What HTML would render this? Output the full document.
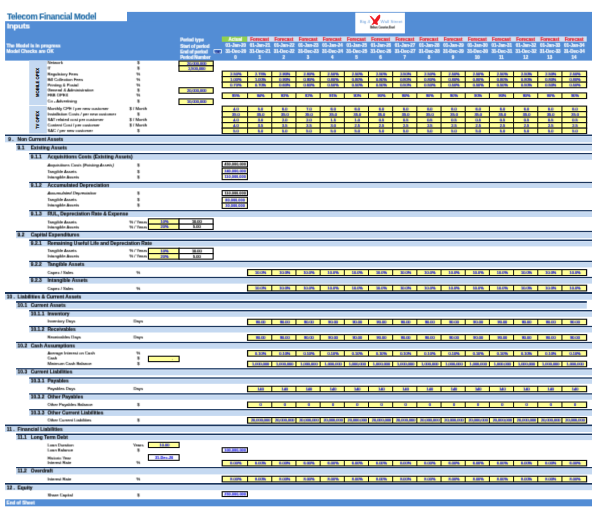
<!DOCTYPE html>
<html><head><meta charset="utf-8"><title>Telecom Financial Model - Inputs</title>
<style>
html,body{margin:0;padding:0;background:#fff;}
#s{position:relative;width:600px;height:516px;overflow:hidden;background:#fff;font-family:"Liberation Sans",sans-serif;}
#s svg,#s .L{position:absolute;left:0;top:0;width:600px;height:516px;display:block;}
#s span{position:absolute;display:block;white-space:nowrap;line-height:6px;}
#t0{filter:url(#f0);}
#t1{filter:url(#f1);}
</style></head><body><div id="s">
<svg width="600" height="516" viewBox="0 0 600 516">
<defs>
<filter id="f0" x="0" y="0" width="100%" height="100%" filterUnits="userSpaceOnUse" color-interpolation-filters="sRGB"><feConvolveMatrix order="3 3" kernelMatrix="0.0125 0.1000 0.0125 0.0750 0.6000 0.0750 0.0125 0.1000 0.0125" preserveAlpha="false"/></filter>
<filter id="f1" x="0" y="0" width="100%" height="100%" filterUnits="userSpaceOnUse" color-interpolation-filters="sRGB"><feConvolveMatrix order="3 2" targetX="1" targetY="1" kernelMatrix="0.0500 0.4000 0.0500 0.0500 0.4000 0.0500" preserveAlpha="false"/></filter>
</defs>
<rect x="127.00" y="11.90" width="465.00" height="12.00" fill="#538DD5"/>
<rect x="5.10" y="21.20" width="586.90" height="39.40" fill="#538DD5"/>
<rect x="213.60" y="49.30" width="8.20" height="4.00" fill="#fff"/>
<rect x="214.25" y="49.95" width="6.90" height="2.70" fill="#4B7FD0"/>
<rect x="221.80" y="36.50" width="25.50" height="5.30" fill="#92D050"/>
<rect x="247.30" y="36.40" width="339.40" height="5.30" fill="#D3DFF2"/>
<rect x="355.30" y="12.70" width="49.60" height="20.70" fill="#fff"/>
<path transform="translate(353,10) scale(0.0917)" fill="#EE1C24" d="M180,62 L200,68 L222,90 L238,106 L262,72 L288,50 L298,58 L296,84 L282,110 L264,130 L272,150 L268,163 L250,158 L236,150 L216,161 L200,160 L212,146 L222,132 L214,110 L196,86 Z"/>
<rect x="29.20" y="60.60" width="17.60" height="44.40" fill="#C5D9F1"/>
<rect x="29.20" y="105.80" width="17.60" height="27.60" fill="#C5D9F1"/>
<rect x="178.40" y="60.48" width="35.40" height="6.00" fill="#111"/>
<rect x="179.55" y="61.58" width="33.10" height="3.80" fill="#FFFF99"/>
<rect x="178.40" y="65.28" width="35.40" height="6.60" fill="#111"/>
<rect x="179.55" y="66.38" width="33.10" height="4.40" fill="#FFFF99"/>
<rect x="178.40" y="87.18" width="35.40" height="6.60" fill="#111"/>
<rect x="179.55" y="88.28" width="33.10" height="4.40" fill="#FFFF99"/>
<rect x="178.40" y="98.38" width="35.40" height="6.70" fill="#111"/>
<rect x="179.55" y="99.48" width="33.10" height="4.50" fill="#FFFF99"/>
<rect x="221.60" y="70.58" width="365.60" height="6.70" fill="#111"/>
<rect x="222.85" y="71.68" width="24.25" height="4.50" fill="#FFFF99"/>
<rect x="248.10" y="71.68" width="23.18" height="4.50" fill="#FFFF99"/>
<rect x="272.28" y="71.68" width="23.18" height="4.50" fill="#FFFF99"/>
<rect x="296.46" y="71.68" width="23.18" height="4.50" fill="#FFFF99"/>
<rect x="320.64" y="71.68" width="23.18" height="4.50" fill="#FFFF99"/>
<rect x="344.82" y="71.68" width="23.18" height="4.50" fill="#FFFF99"/>
<rect x="369.00" y="71.68" width="23.18" height="4.50" fill="#FFFF99"/>
<rect x="393.18" y="71.68" width="23.18" height="4.50" fill="#FFFF99"/>
<rect x="417.36" y="71.68" width="23.18" height="4.50" fill="#FFFF99"/>
<rect x="441.54" y="71.68" width="23.18" height="4.50" fill="#FFFF99"/>
<rect x="465.72" y="71.68" width="23.18" height="4.50" fill="#FFFF99"/>
<rect x="489.90" y="71.68" width="23.18" height="4.50" fill="#FFFF99"/>
<rect x="514.08" y="71.68" width="23.18" height="4.50" fill="#FFFF99"/>
<rect x="538.26" y="71.68" width="23.18" height="4.50" fill="#FFFF99"/>
<rect x="562.44" y="71.68" width="23.51" height="4.50" fill="#FFFF99"/>
<rect x="221.60" y="76.08" width="365.60" height="6.70" fill="#111"/>
<rect x="222.85" y="77.18" width="24.25" height="4.50" fill="#FFFF99"/>
<rect x="248.10" y="77.18" width="23.18" height="4.50" fill="#FFFF99"/>
<rect x="272.28" y="77.18" width="23.18" height="4.50" fill="#FFFF99"/>
<rect x="296.46" y="77.18" width="23.18" height="4.50" fill="#FFFF99"/>
<rect x="320.64" y="77.18" width="23.18" height="4.50" fill="#FFFF99"/>
<rect x="344.82" y="77.18" width="23.18" height="4.50" fill="#FFFF99"/>
<rect x="369.00" y="77.18" width="23.18" height="4.50" fill="#FFFF99"/>
<rect x="393.18" y="77.18" width="23.18" height="4.50" fill="#FFFF99"/>
<rect x="417.36" y="77.18" width="23.18" height="4.50" fill="#FFFF99"/>
<rect x="441.54" y="77.18" width="23.18" height="4.50" fill="#FFFF99"/>
<rect x="465.72" y="77.18" width="23.18" height="4.50" fill="#FFFF99"/>
<rect x="489.90" y="77.18" width="23.18" height="4.50" fill="#FFFF99"/>
<rect x="514.08" y="77.18" width="23.18" height="4.50" fill="#FFFF99"/>
<rect x="538.26" y="77.18" width="23.18" height="4.50" fill="#FFFF99"/>
<rect x="562.44" y="77.18" width="23.51" height="4.50" fill="#FFFF99"/>
<rect x="221.60" y="81.58" width="365.60" height="6.70" fill="#111"/>
<rect x="222.85" y="82.68" width="24.25" height="4.50" fill="#FFFF99"/>
<rect x="248.10" y="82.68" width="23.18" height="4.50" fill="#FFFF99"/>
<rect x="272.28" y="82.68" width="23.18" height="4.50" fill="#FFFF99"/>
<rect x="296.46" y="82.68" width="23.18" height="4.50" fill="#FFFF99"/>
<rect x="320.64" y="82.68" width="23.18" height="4.50" fill="#FFFF99"/>
<rect x="344.82" y="82.68" width="23.18" height="4.50" fill="#FFFF99"/>
<rect x="369.00" y="82.68" width="23.18" height="4.50" fill="#FFFF99"/>
<rect x="393.18" y="82.68" width="23.18" height="4.50" fill="#FFFF99"/>
<rect x="417.36" y="82.68" width="23.18" height="4.50" fill="#FFFF99"/>
<rect x="441.54" y="82.68" width="23.18" height="4.50" fill="#FFFF99"/>
<rect x="465.72" y="82.68" width="23.18" height="4.50" fill="#FFFF99"/>
<rect x="489.90" y="82.68" width="23.18" height="4.50" fill="#FFFF99"/>
<rect x="514.08" y="82.68" width="23.18" height="4.50" fill="#FFFF99"/>
<rect x="538.26" y="82.68" width="23.18" height="4.50" fill="#FFFF99"/>
<rect x="562.44" y="82.68" width="23.51" height="4.50" fill="#FFFF99"/>
<rect x="221.60" y="92.38" width="365.60" height="6.70" fill="#111"/>
<rect x="222.85" y="93.48" width="24.25" height="4.50" fill="#FFFF99"/>
<rect x="248.10" y="93.48" width="23.18" height="4.50" fill="#FFFF99"/>
<rect x="272.28" y="93.48" width="23.18" height="4.50" fill="#FFFF99"/>
<rect x="296.46" y="93.48" width="23.18" height="4.50" fill="#FFFF99"/>
<rect x="320.64" y="93.48" width="23.18" height="4.50" fill="#FFFF99"/>
<rect x="344.82" y="93.48" width="23.18" height="4.50" fill="#FFFF99"/>
<rect x="369.00" y="93.48" width="23.18" height="4.50" fill="#FFFF99"/>
<rect x="393.18" y="93.48" width="23.18" height="4.50" fill="#FFFF99"/>
<rect x="417.36" y="93.48" width="23.18" height="4.50" fill="#FFFF99"/>
<rect x="441.54" y="93.48" width="23.18" height="4.50" fill="#FFFF99"/>
<rect x="465.72" y="93.48" width="23.18" height="4.50" fill="#FFFF99"/>
<rect x="489.90" y="93.48" width="23.18" height="4.50" fill="#FFFF99"/>
<rect x="514.08" y="93.48" width="23.18" height="4.50" fill="#FFFF99"/>
<rect x="538.26" y="93.48" width="23.18" height="4.50" fill="#FFFF99"/>
<rect x="562.44" y="93.48" width="23.51" height="4.50" fill="#FFFF99"/>
<rect x="221.60" y="105.58" width="365.60" height="6.70" fill="#111"/>
<rect x="222.85" y="106.68" width="24.25" height="4.50" fill="#FFFF99"/>
<rect x="248.10" y="106.68" width="23.18" height="4.50" fill="#FFFF99"/>
<rect x="272.28" y="106.68" width="23.18" height="4.50" fill="#FFFF99"/>
<rect x="296.46" y="106.68" width="23.18" height="4.50" fill="#FFFF99"/>
<rect x="320.64" y="106.68" width="23.18" height="4.50" fill="#FFFF99"/>
<rect x="344.82" y="106.68" width="23.18" height="4.50" fill="#FFFF99"/>
<rect x="369.00" y="106.68" width="23.18" height="4.50" fill="#FFFF99"/>
<rect x="393.18" y="106.68" width="23.18" height="4.50" fill="#FFFF99"/>
<rect x="417.36" y="106.68" width="23.18" height="4.50" fill="#FFFF99"/>
<rect x="441.54" y="106.68" width="23.18" height="4.50" fill="#FFFF99"/>
<rect x="465.72" y="106.68" width="23.18" height="4.50" fill="#FFFF99"/>
<rect x="489.90" y="106.68" width="23.18" height="4.50" fill="#FFFF99"/>
<rect x="514.08" y="106.68" width="23.18" height="4.50" fill="#FFFF99"/>
<rect x="538.26" y="106.68" width="23.18" height="4.50" fill="#FFFF99"/>
<rect x="562.44" y="106.68" width="23.51" height="4.50" fill="#FFFF99"/>
<rect x="221.60" y="111.08" width="365.60" height="6.70" fill="#111"/>
<rect x="222.85" y="112.18" width="24.25" height="4.50" fill="#FFFF99"/>
<rect x="248.10" y="112.18" width="23.18" height="4.50" fill="#FFFF99"/>
<rect x="272.28" y="112.18" width="23.18" height="4.50" fill="#FFFF99"/>
<rect x="296.46" y="112.18" width="23.18" height="4.50" fill="#FFFF99"/>
<rect x="320.64" y="112.18" width="23.18" height="4.50" fill="#FFFF99"/>
<rect x="344.82" y="112.18" width="23.18" height="4.50" fill="#FFFF99"/>
<rect x="369.00" y="112.18" width="23.18" height="4.50" fill="#FFFF99"/>
<rect x="393.18" y="112.18" width="23.18" height="4.50" fill="#FFFF99"/>
<rect x="417.36" y="112.18" width="23.18" height="4.50" fill="#FFFF99"/>
<rect x="441.54" y="112.18" width="23.18" height="4.50" fill="#FFFF99"/>
<rect x="465.72" y="112.18" width="23.18" height="4.50" fill="#FFFF99"/>
<rect x="489.90" y="112.18" width="23.18" height="4.50" fill="#FFFF99"/>
<rect x="514.08" y="112.18" width="23.18" height="4.50" fill="#FFFF99"/>
<rect x="538.26" y="112.18" width="23.18" height="4.50" fill="#FFFF99"/>
<rect x="562.44" y="112.18" width="23.51" height="4.50" fill="#FFFF99"/>
<rect x="221.60" y="116.58" width="365.60" height="6.70" fill="#111"/>
<rect x="222.85" y="117.68" width="24.25" height="4.50" fill="#FFFF99"/>
<rect x="248.10" y="117.68" width="23.18" height="4.50" fill="#FFFF99"/>
<rect x="272.28" y="117.68" width="23.18" height="4.50" fill="#FFFF99"/>
<rect x="296.46" y="117.68" width="23.18" height="4.50" fill="#FFFF99"/>
<rect x="320.64" y="117.68" width="23.18" height="4.50" fill="#FFFF99"/>
<rect x="344.82" y="117.68" width="23.18" height="4.50" fill="#FFFF99"/>
<rect x="369.00" y="117.68" width="23.18" height="4.50" fill="#FFFF99"/>
<rect x="393.18" y="117.68" width="23.18" height="4.50" fill="#FFFF99"/>
<rect x="417.36" y="117.68" width="23.18" height="4.50" fill="#FFFF99"/>
<rect x="441.54" y="117.68" width="23.18" height="4.50" fill="#FFFF99"/>
<rect x="465.72" y="117.68" width="23.18" height="4.50" fill="#FFFF99"/>
<rect x="489.90" y="117.68" width="23.18" height="4.50" fill="#FFFF99"/>
<rect x="514.08" y="117.68" width="23.18" height="4.50" fill="#FFFF99"/>
<rect x="538.26" y="117.68" width="23.18" height="4.50" fill="#FFFF99"/>
<rect x="562.44" y="117.68" width="23.51" height="4.50" fill="#FFFF99"/>
<rect x="221.60" y="122.08" width="365.60" height="6.70" fill="#111"/>
<rect x="222.85" y="123.18" width="24.25" height="4.50" fill="#FFFF99"/>
<rect x="248.10" y="123.18" width="23.18" height="4.50" fill="#FFFF99"/>
<rect x="272.28" y="123.18" width="23.18" height="4.50" fill="#FFFF99"/>
<rect x="296.46" y="123.18" width="23.18" height="4.50" fill="#FFFF99"/>
<rect x="320.64" y="123.18" width="23.18" height="4.50" fill="#FFFF99"/>
<rect x="344.82" y="123.18" width="23.18" height="4.50" fill="#FFFF99"/>
<rect x="369.00" y="123.18" width="23.18" height="4.50" fill="#FFFF99"/>
<rect x="393.18" y="123.18" width="23.18" height="4.50" fill="#FFFF99"/>
<rect x="417.36" y="123.18" width="23.18" height="4.50" fill="#FFFF99"/>
<rect x="441.54" y="123.18" width="23.18" height="4.50" fill="#FFFF99"/>
<rect x="465.72" y="123.18" width="23.18" height="4.50" fill="#FFFF99"/>
<rect x="489.90" y="123.18" width="23.18" height="4.50" fill="#FFFF99"/>
<rect x="514.08" y="123.18" width="23.18" height="4.50" fill="#FFFF99"/>
<rect x="538.26" y="123.18" width="23.18" height="4.50" fill="#FFFF99"/>
<rect x="562.44" y="123.18" width="23.51" height="4.50" fill="#FFFF99"/>
<rect x="221.60" y="127.58" width="365.60" height="6.60" fill="#111"/>
<rect x="222.85" y="128.68" width="24.25" height="4.40" fill="#FFFF99"/>
<rect x="248.10" y="128.68" width="23.18" height="4.40" fill="#FFFF99"/>
<rect x="272.28" y="128.68" width="23.18" height="4.40" fill="#FFFF99"/>
<rect x="296.46" y="128.68" width="23.18" height="4.40" fill="#FFFF99"/>
<rect x="320.64" y="128.68" width="23.18" height="4.40" fill="#FFFF99"/>
<rect x="344.82" y="128.68" width="23.18" height="4.40" fill="#FFFF99"/>
<rect x="369.00" y="128.68" width="23.18" height="4.40" fill="#FFFF99"/>
<rect x="393.18" y="128.68" width="23.18" height="4.40" fill="#FFFF99"/>
<rect x="417.36" y="128.68" width="23.18" height="4.40" fill="#FFFF99"/>
<rect x="441.54" y="128.68" width="23.18" height="4.40" fill="#FFFF99"/>
<rect x="465.72" y="128.68" width="23.18" height="4.40" fill="#FFFF99"/>
<rect x="489.90" y="128.68" width="23.18" height="4.40" fill="#FFFF99"/>
<rect x="514.08" y="128.68" width="23.18" height="4.40" fill="#FFFF99"/>
<rect x="538.26" y="128.68" width="23.18" height="4.40" fill="#FFFF99"/>
<rect x="562.44" y="128.68" width="23.51" height="4.40" fill="#FFFF99"/>
<rect x="5.00" y="134.60" width="587.00" height="7.70" fill="#C5D9F1"/>
<rect x="5.00" y="134.60" width="587.00" height="1.40" fill="#1B365D"/>
<rect x="5.00" y="136.00" width="587.00" height="0.80" fill="#D6E3F4"/>
<rect x="16.10" y="143.80" width="575.90" height="7.00" fill="#C5D9F1"/>
<rect x="16.10" y="143.80" width="575.90" height="1.40" fill="#1B365D"/>
<rect x="16.10" y="145.20" width="575.90" height="0.80" fill="#D6E3F4"/>
<rect x="29.20" y="153.00" width="562.80" height="6.80" fill="#C5D9F1"/>
<rect x="29.20" y="153.00" width="562.80" height="1.40" fill="#1B365D"/>
<rect x="29.20" y="154.40" width="562.80" height="0.80" fill="#D6E3F4"/>
<rect x="221.60" y="160.98" width="26.40" height="6.50" fill="#111"/>
<rect x="222.75" y="162.08" width="24.10" height="4.30" fill="#fff"/>
<rect x="221.60" y="167.58" width="26.40" height="6.80" fill="#111"/>
<rect x="222.75" y="168.68" width="24.10" height="4.60" fill="#FFFFD2"/>
<rect x="221.60" y="173.18" width="26.40" height="7.00" fill="#111"/>
<rect x="222.75" y="174.28" width="24.10" height="4.80" fill="#FFFFD2"/>
<rect x="29.20" y="181.90" width="562.80" height="6.10" fill="#C5D9F1"/>
<rect x="29.20" y="181.90" width="562.80" height="1.40" fill="#1B365D"/>
<rect x="29.20" y="183.30" width="562.80" height="0.80" fill="#D6E3F4"/>
<rect x="221.60" y="190.08" width="26.40" height="6.00" fill="#111"/>
<rect x="222.75" y="191.18" width="24.10" height="3.80" fill="#fff"/>
<rect x="221.60" y="196.68" width="26.40" height="7.00" fill="#111"/>
<rect x="222.75" y="197.78" width="24.10" height="4.80" fill="#FFFFD2"/>
<rect x="221.60" y="202.48" width="26.40" height="6.50" fill="#111"/>
<rect x="222.75" y="203.58" width="24.10" height="4.30" fill="#FFFFD2"/>
<rect x="29.20" y="210.10" width="562.80" height="6.90" fill="#C5D9F1"/>
<rect x="29.20" y="210.10" width="562.80" height="1.40" fill="#1B365D"/>
<rect x="29.20" y="211.50" width="562.80" height="0.80" fill="#D6E3F4"/>
<rect x="147.85" y="218.28" width="31.85" height="6.50" fill="#111"/>
<rect x="149.00" y="219.38" width="29.55" height="4.30" fill="#FFFF99"/>
<rect x="178.50" y="218.28" width="35.20" height="6.50" fill="#111"/>
<rect x="179.65" y="219.38" width="32.90" height="4.30" fill="#fff"/>
<rect x="147.85" y="223.58" width="31.85" height="6.40" fill="#111"/>
<rect x="149.00" y="224.68" width="29.55" height="4.20" fill="#FFFF99"/>
<rect x="178.50" y="223.58" width="35.20" height="6.40" fill="#111"/>
<rect x="179.65" y="224.68" width="32.90" height="4.20" fill="#fff"/>
<rect x="16.10" y="230.90" width="575.90" height="7.30" fill="#C5D9F1"/>
<rect x="16.10" y="230.90" width="575.90" height="1.40" fill="#1B365D"/>
<rect x="16.10" y="232.30" width="575.90" height="0.80" fill="#D6E3F4"/>
<rect x="29.20" y="239.60" width="562.80" height="6.80" fill="#C5D9F1"/>
<rect x="29.20" y="239.60" width="562.80" height="1.40" fill="#1B365D"/>
<rect x="29.20" y="241.00" width="562.80" height="0.80" fill="#D6E3F4"/>
<rect x="147.85" y="247.68" width="31.85" height="6.60" fill="#111"/>
<rect x="149.00" y="248.78" width="29.55" height="4.40" fill="#FFFF99"/>
<rect x="178.50" y="247.68" width="35.20" height="6.60" fill="#111"/>
<rect x="179.65" y="248.78" width="32.90" height="4.40" fill="#fff"/>
<rect x="147.85" y="253.08" width="31.85" height="6.60" fill="#111"/>
<rect x="149.00" y="254.18" width="29.55" height="4.40" fill="#FFFF99"/>
<rect x="178.50" y="253.08" width="35.20" height="6.60" fill="#111"/>
<rect x="179.65" y="254.18" width="32.90" height="4.40" fill="#fff"/>
<rect x="29.20" y="260.80" width="562.80" height="6.60" fill="#C5D9F1"/>
<rect x="29.20" y="260.80" width="562.80" height="1.40" fill="#1B365D"/>
<rect x="29.20" y="262.20" width="562.80" height="0.80" fill="#D6E3F4"/>
<rect x="246.95" y="269.08" width="340.25" height="7.00" fill="#111"/>
<rect x="248.20" y="270.18" width="23.08" height="4.80" fill="#FFFF99"/>
<rect x="272.28" y="270.18" width="23.18" height="4.80" fill="#FFFF99"/>
<rect x="296.46" y="270.18" width="23.18" height="4.80" fill="#FFFF99"/>
<rect x="320.64" y="270.18" width="23.18" height="4.80" fill="#FFFF99"/>
<rect x="344.82" y="270.18" width="23.18" height="4.80" fill="#FFFF99"/>
<rect x="369.00" y="270.18" width="23.18" height="4.80" fill="#FFFF99"/>
<rect x="393.18" y="270.18" width="23.18" height="4.80" fill="#FFFF99"/>
<rect x="417.36" y="270.18" width="23.18" height="4.80" fill="#FFFF99"/>
<rect x="441.54" y="270.18" width="23.18" height="4.80" fill="#FFFF99"/>
<rect x="465.72" y="270.18" width="23.18" height="4.80" fill="#FFFF99"/>
<rect x="489.90" y="270.18" width="23.18" height="4.80" fill="#FFFF99"/>
<rect x="514.08" y="270.18" width="23.18" height="4.80" fill="#FFFF99"/>
<rect x="538.26" y="270.18" width="23.18" height="4.80" fill="#FFFF99"/>
<rect x="562.44" y="270.18" width="23.51" height="4.80" fill="#FFFF99"/>
<rect x="29.20" y="276.90" width="562.80" height="6.70" fill="#C5D9F1"/>
<rect x="29.20" y="276.90" width="562.80" height="1.40" fill="#1B365D"/>
<rect x="29.20" y="278.30" width="562.80" height="0.80" fill="#D6E3F4"/>
<rect x="246.95" y="284.68" width="340.25" height="6.80" fill="#111"/>
<rect x="248.20" y="285.78" width="23.08" height="4.60" fill="#FFFF99"/>
<rect x="272.28" y="285.78" width="23.18" height="4.60" fill="#FFFF99"/>
<rect x="296.46" y="285.78" width="23.18" height="4.60" fill="#FFFF99"/>
<rect x="320.64" y="285.78" width="23.18" height="4.60" fill="#FFFF99"/>
<rect x="344.82" y="285.78" width="23.18" height="4.60" fill="#FFFF99"/>
<rect x="369.00" y="285.78" width="23.18" height="4.60" fill="#FFFF99"/>
<rect x="393.18" y="285.78" width="23.18" height="4.60" fill="#FFFF99"/>
<rect x="417.36" y="285.78" width="23.18" height="4.60" fill="#FFFF99"/>
<rect x="441.54" y="285.78" width="23.18" height="4.60" fill="#FFFF99"/>
<rect x="465.72" y="285.78" width="23.18" height="4.60" fill="#FFFF99"/>
<rect x="489.90" y="285.78" width="23.18" height="4.60" fill="#FFFF99"/>
<rect x="514.08" y="285.78" width="23.18" height="4.60" fill="#FFFF99"/>
<rect x="538.26" y="285.78" width="23.18" height="4.60" fill="#FFFF99"/>
<rect x="562.44" y="285.78" width="23.51" height="4.60" fill="#FFFF99"/>
<rect x="5.00" y="292.00" width="587.00" height="7.70" fill="#C5D9F1"/>
<rect x="5.00" y="292.00" width="587.00" height="2.00" fill="#1B365D"/>
<rect x="5.00" y="294.00" width="587.00" height="0.80" fill="#D6E3F4"/>
<rect x="16.10" y="301.10" width="570.70" height="7.50" fill="#C5D9F1"/>
<rect x="16.10" y="301.10" width="570.70" height="1.80" fill="#1B365D"/>
<rect x="16.10" y="302.90" width="570.70" height="0.80" fill="#D6E3F4"/>
<rect x="29.20" y="310.00" width="562.80" height="6.80" fill="#C5D9F1"/>
<rect x="29.20" y="310.00" width="562.80" height="1.60" fill="#1B365D"/>
<rect x="29.20" y="311.60" width="562.80" height="0.80" fill="#D6E3F4"/>
<rect x="246.95" y="318.68" width="340.25" height="6.60" fill="#111"/>
<rect x="248.20" y="319.78" width="23.08" height="4.40" fill="#FFFF99"/>
<rect x="272.28" y="319.78" width="23.18" height="4.40" fill="#FFFF99"/>
<rect x="296.46" y="319.78" width="23.18" height="4.40" fill="#FFFF99"/>
<rect x="320.64" y="319.78" width="23.18" height="4.40" fill="#FFFF99"/>
<rect x="344.82" y="319.78" width="23.18" height="4.40" fill="#FFFF99"/>
<rect x="369.00" y="319.78" width="23.18" height="4.40" fill="#FFFF99"/>
<rect x="393.18" y="319.78" width="23.18" height="4.40" fill="#FFFF99"/>
<rect x="417.36" y="319.78" width="23.18" height="4.40" fill="#FFFF99"/>
<rect x="441.54" y="319.78" width="23.18" height="4.40" fill="#FFFF99"/>
<rect x="465.72" y="319.78" width="23.18" height="4.40" fill="#FFFF99"/>
<rect x="489.90" y="319.78" width="23.18" height="4.40" fill="#FFFF99"/>
<rect x="514.08" y="319.78" width="23.18" height="4.40" fill="#FFFF99"/>
<rect x="538.26" y="319.78" width="23.18" height="4.40" fill="#FFFF99"/>
<rect x="562.44" y="319.78" width="23.51" height="4.40" fill="#FFFF99"/>
<rect x="29.20" y="325.90" width="562.80" height="6.60" fill="#C5D9F1"/>
<rect x="29.20" y="325.90" width="562.80" height="1.40" fill="#1B365D"/>
<rect x="29.20" y="327.30" width="562.80" height="0.80" fill="#D6E3F4"/>
<rect x="246.95" y="334.08" width="340.25" height="6.80" fill="#111"/>
<rect x="248.20" y="335.18" width="23.08" height="4.60" fill="#FFFF99"/>
<rect x="272.28" y="335.18" width="23.18" height="4.60" fill="#FFFF99"/>
<rect x="296.46" y="335.18" width="23.18" height="4.60" fill="#FFFF99"/>
<rect x="320.64" y="335.18" width="23.18" height="4.60" fill="#FFFF99"/>
<rect x="344.82" y="335.18" width="23.18" height="4.60" fill="#FFFF99"/>
<rect x="369.00" y="335.18" width="23.18" height="4.60" fill="#FFFF99"/>
<rect x="393.18" y="335.18" width="23.18" height="4.60" fill="#FFFF99"/>
<rect x="417.36" y="335.18" width="23.18" height="4.60" fill="#FFFF99"/>
<rect x="441.54" y="335.18" width="23.18" height="4.60" fill="#FFFF99"/>
<rect x="465.72" y="335.18" width="23.18" height="4.60" fill="#FFFF99"/>
<rect x="489.90" y="335.18" width="23.18" height="4.60" fill="#FFFF99"/>
<rect x="514.08" y="335.18" width="23.18" height="4.60" fill="#FFFF99"/>
<rect x="538.26" y="335.18" width="23.18" height="4.60" fill="#FFFF99"/>
<rect x="562.44" y="335.18" width="23.51" height="4.60" fill="#FFFF99"/>
<rect x="16.10" y="341.90" width="575.90" height="6.80" fill="#C5D9F1"/>
<rect x="16.10" y="341.90" width="575.90" height="1.40" fill="#1B365D"/>
<rect x="16.10" y="343.30" width="575.90" height="0.80" fill="#D6E3F4"/>
<rect x="246.95" y="350.08" width="340.25" height="6.60" fill="#111"/>
<rect x="248.20" y="351.18" width="23.08" height="4.40" fill="#FFFF99"/>
<rect x="272.28" y="351.18" width="23.18" height="4.40" fill="#FFFF99"/>
<rect x="296.46" y="351.18" width="23.18" height="4.40" fill="#FFFF99"/>
<rect x="320.64" y="351.18" width="23.18" height="4.40" fill="#FFFF99"/>
<rect x="344.82" y="351.18" width="23.18" height="4.40" fill="#FFFF99"/>
<rect x="369.00" y="351.18" width="23.18" height="4.40" fill="#FFFF99"/>
<rect x="393.18" y="351.18" width="23.18" height="4.40" fill="#FFFF99"/>
<rect x="417.36" y="351.18" width="23.18" height="4.40" fill="#FFFF99"/>
<rect x="441.54" y="351.18" width="23.18" height="4.40" fill="#FFFF99"/>
<rect x="465.72" y="351.18" width="23.18" height="4.40" fill="#FFFF99"/>
<rect x="489.90" y="351.18" width="23.18" height="4.40" fill="#FFFF99"/>
<rect x="514.08" y="351.18" width="23.18" height="4.40" fill="#FFFF99"/>
<rect x="538.26" y="351.18" width="23.18" height="4.40" fill="#FFFF99"/>
<rect x="562.44" y="351.18" width="23.51" height="4.40" fill="#FFFF99"/>
<rect x="147.85" y="355.68" width="31.85" height="6.50" fill="#111"/>
<rect x="149.00" y="356.78" width="29.55" height="4.30" fill="#FFFF99"/>
<rect x="246.95" y="360.68" width="340.25" height="6.60" fill="#111"/>
<rect x="248.20" y="361.78" width="23.08" height="4.40" fill="#FFFF99"/>
<rect x="272.28" y="361.78" width="23.18" height="4.40" fill="#FFFF99"/>
<rect x="296.46" y="361.78" width="23.18" height="4.40" fill="#FFFF99"/>
<rect x="320.64" y="361.78" width="23.18" height="4.40" fill="#FFFF99"/>
<rect x="344.82" y="361.78" width="23.18" height="4.40" fill="#FFFF99"/>
<rect x="369.00" y="361.78" width="23.18" height="4.40" fill="#FFFF99"/>
<rect x="393.18" y="361.78" width="23.18" height="4.40" fill="#FFFF99"/>
<rect x="417.36" y="361.78" width="23.18" height="4.40" fill="#FFFF99"/>
<rect x="441.54" y="361.78" width="23.18" height="4.40" fill="#FFFF99"/>
<rect x="465.72" y="361.78" width="23.18" height="4.40" fill="#FFFF99"/>
<rect x="489.90" y="361.78" width="23.18" height="4.40" fill="#FFFF99"/>
<rect x="514.08" y="361.78" width="23.18" height="4.40" fill="#FFFF99"/>
<rect x="538.26" y="361.78" width="23.18" height="4.40" fill="#FFFF99"/>
<rect x="562.44" y="361.78" width="23.51" height="4.40" fill="#FFFF99"/>
<rect x="16.10" y="368.20" width="575.90" height="7.10" fill="#C5D9F1"/>
<rect x="16.10" y="368.20" width="575.90" height="1.40" fill="#1B365D"/>
<rect x="16.10" y="369.60" width="575.90" height="0.80" fill="#D6E3F4"/>
<rect x="29.20" y="377.40" width="562.80" height="6.40" fill="#C5D9F1"/>
<rect x="29.20" y="377.40" width="562.80" height="1.40" fill="#1B365D"/>
<rect x="29.20" y="378.80" width="562.80" height="0.80" fill="#D6E3F4"/>
<rect x="246.95" y="385.68" width="340.25" height="6.60" fill="#111"/>
<rect x="248.20" y="386.78" width="23.08" height="4.40" fill="#FFFF99"/>
<rect x="272.28" y="386.78" width="23.18" height="4.40" fill="#FFFF99"/>
<rect x="296.46" y="386.78" width="23.18" height="4.40" fill="#FFFF99"/>
<rect x="320.64" y="386.78" width="23.18" height="4.40" fill="#FFFF99"/>
<rect x="344.82" y="386.78" width="23.18" height="4.40" fill="#FFFF99"/>
<rect x="369.00" y="386.78" width="23.18" height="4.40" fill="#FFFF99"/>
<rect x="393.18" y="386.78" width="23.18" height="4.40" fill="#FFFF99"/>
<rect x="417.36" y="386.78" width="23.18" height="4.40" fill="#FFFF99"/>
<rect x="441.54" y="386.78" width="23.18" height="4.40" fill="#FFFF99"/>
<rect x="465.72" y="386.78" width="23.18" height="4.40" fill="#FFFF99"/>
<rect x="489.90" y="386.78" width="23.18" height="4.40" fill="#FFFF99"/>
<rect x="514.08" y="386.78" width="23.18" height="4.40" fill="#FFFF99"/>
<rect x="538.26" y="386.78" width="23.18" height="4.40" fill="#FFFF99"/>
<rect x="562.44" y="386.78" width="23.51" height="4.40" fill="#FFFF99"/>
<rect x="29.20" y="393.30" width="562.80" height="6.40" fill="#C5D9F1"/>
<rect x="29.20" y="393.30" width="562.80" height="1.40" fill="#1B365D"/>
<rect x="29.20" y="394.70" width="562.80" height="0.80" fill="#D6E3F4"/>
<rect x="246.95" y="401.48" width="340.25" height="6.60" fill="#111"/>
<rect x="248.20" y="402.58" width="23.08" height="4.40" fill="#FFFF99"/>
<rect x="272.28" y="402.58" width="23.18" height="4.40" fill="#FFFF99"/>
<rect x="296.46" y="402.58" width="23.18" height="4.40" fill="#FFFF99"/>
<rect x="320.64" y="402.58" width="23.18" height="4.40" fill="#FFFF99"/>
<rect x="344.82" y="402.58" width="23.18" height="4.40" fill="#FFFF99"/>
<rect x="369.00" y="402.58" width="23.18" height="4.40" fill="#FFFF99"/>
<rect x="393.18" y="402.58" width="23.18" height="4.40" fill="#FFFF99"/>
<rect x="417.36" y="402.58" width="23.18" height="4.40" fill="#FFFF99"/>
<rect x="441.54" y="402.58" width="23.18" height="4.40" fill="#FFFF99"/>
<rect x="465.72" y="402.58" width="23.18" height="4.40" fill="#FFFF99"/>
<rect x="489.90" y="402.58" width="23.18" height="4.40" fill="#FFFF99"/>
<rect x="514.08" y="402.58" width="23.18" height="4.40" fill="#FFFF99"/>
<rect x="538.26" y="402.58" width="23.18" height="4.40" fill="#FFFF99"/>
<rect x="562.44" y="402.58" width="23.51" height="4.40" fill="#FFFF99"/>
<rect x="29.20" y="409.10" width="562.80" height="6.80" fill="#C5D9F1"/>
<rect x="29.20" y="409.10" width="562.80" height="1.40" fill="#1B365D"/>
<rect x="29.20" y="410.50" width="562.80" height="0.80" fill="#D6E3F4"/>
<rect x="246.95" y="416.98" width="340.25" height="6.70" fill="#111"/>
<rect x="248.20" y="418.08" width="23.08" height="4.50" fill="#FFFF99"/>
<rect x="272.28" y="418.08" width="23.18" height="4.50" fill="#FFFF99"/>
<rect x="296.46" y="418.08" width="23.18" height="4.50" fill="#FFFF99"/>
<rect x="320.64" y="418.08" width="23.18" height="4.50" fill="#FFFF99"/>
<rect x="344.82" y="418.08" width="23.18" height="4.50" fill="#FFFF99"/>
<rect x="369.00" y="418.08" width="23.18" height="4.50" fill="#FFFF99"/>
<rect x="393.18" y="418.08" width="23.18" height="4.50" fill="#FFFF99"/>
<rect x="417.36" y="418.08" width="23.18" height="4.50" fill="#FFFF99"/>
<rect x="441.54" y="418.08" width="23.18" height="4.50" fill="#FFFF99"/>
<rect x="465.72" y="418.08" width="23.18" height="4.50" fill="#FFFF99"/>
<rect x="489.90" y="418.08" width="23.18" height="4.50" fill="#FFFF99"/>
<rect x="514.08" y="418.08" width="23.18" height="4.50" fill="#FFFF99"/>
<rect x="538.26" y="418.08" width="23.18" height="4.50" fill="#FFFF99"/>
<rect x="562.44" y="418.08" width="23.51" height="4.50" fill="#FFFF99"/>
<rect x="5.00" y="424.60" width="587.00" height="7.40" fill="#C5D9F1"/>
<rect x="5.00" y="424.60" width="587.00" height="1.80" fill="#1B365D"/>
<rect x="5.00" y="426.40" width="587.00" height="0.80" fill="#D6E3F4"/>
<rect x="16.10" y="433.60" width="575.90" height="6.50" fill="#C5D9F1"/>
<rect x="16.10" y="433.60" width="575.90" height="1.40" fill="#1B365D"/>
<rect x="16.10" y="435.00" width="575.90" height="0.80" fill="#D6E3F4"/>
<rect x="147.85" y="441.78" width="31.85" height="6.30" fill="#111"/>
<rect x="149.00" y="442.88" width="29.55" height="4.10" fill="#FFFF99"/>
<rect x="221.60" y="447.18" width="26.40" height="5.70" fill="#111"/>
<rect x="222.75" y="448.28" width="24.10" height="3.50" fill="#FCFCFF"/>
<rect x="147.85" y="454.08" width="31.85" height="6.80" fill="#111"/>
<rect x="149.00" y="455.18" width="29.55" height="4.60" fill="#FCFCFF"/>
<rect x="221.60" y="459.88" width="365.60" height="6.60" fill="#111"/>
<rect x="222.85" y="460.98" width="24.25" height="4.40" fill="#FFFF99"/>
<rect x="248.10" y="460.98" width="23.18" height="4.40" fill="#FFFF99"/>
<rect x="272.28" y="460.98" width="23.18" height="4.40" fill="#FFFF99"/>
<rect x="296.46" y="460.98" width="23.18" height="4.40" fill="#FFFF99"/>
<rect x="320.64" y="460.98" width="23.18" height="4.40" fill="#FFFF99"/>
<rect x="344.82" y="460.98" width="23.18" height="4.40" fill="#FFFF99"/>
<rect x="369.00" y="460.98" width="23.18" height="4.40" fill="#FFFF99"/>
<rect x="393.18" y="460.98" width="23.18" height="4.40" fill="#FFFF99"/>
<rect x="417.36" y="460.98" width="23.18" height="4.40" fill="#FFFF99"/>
<rect x="441.54" y="460.98" width="23.18" height="4.40" fill="#FFFF99"/>
<rect x="465.72" y="460.98" width="23.18" height="4.40" fill="#FFFF99"/>
<rect x="489.90" y="460.98" width="23.18" height="4.40" fill="#FFFF99"/>
<rect x="514.08" y="460.98" width="23.18" height="4.40" fill="#FFFF99"/>
<rect x="538.26" y="460.98" width="23.18" height="4.40" fill="#FFFF99"/>
<rect x="562.44" y="460.98" width="23.51" height="4.40" fill="#FFFF99"/>
<rect x="16.10" y="467.00" width="575.90" height="7.40" fill="#C5D9F1"/>
<rect x="16.10" y="467.00" width="575.90" height="1.40" fill="#1B365D"/>
<rect x="16.10" y="468.40" width="575.90" height="0.80" fill="#D6E3F4"/>
<rect x="221.60" y="475.68" width="365.60" height="6.80" fill="#111"/>
<rect x="222.85" y="476.78" width="24.25" height="4.60" fill="#FFFF99"/>
<rect x="248.10" y="476.78" width="23.18" height="4.60" fill="#FFFF99"/>
<rect x="272.28" y="476.78" width="23.18" height="4.60" fill="#FFFF99"/>
<rect x="296.46" y="476.78" width="23.18" height="4.60" fill="#FFFF99"/>
<rect x="320.64" y="476.78" width="23.18" height="4.60" fill="#FFFF99"/>
<rect x="344.82" y="476.78" width="23.18" height="4.60" fill="#FFFF99"/>
<rect x="369.00" y="476.78" width="23.18" height="4.60" fill="#FFFF99"/>
<rect x="393.18" y="476.78" width="23.18" height="4.60" fill="#FFFF99"/>
<rect x="417.36" y="476.78" width="23.18" height="4.60" fill="#FFFF99"/>
<rect x="441.54" y="476.78" width="23.18" height="4.60" fill="#FFFF99"/>
<rect x="465.72" y="476.78" width="23.18" height="4.60" fill="#FFFF99"/>
<rect x="489.90" y="476.78" width="23.18" height="4.60" fill="#FFFF99"/>
<rect x="514.08" y="476.78" width="23.18" height="4.60" fill="#FFFF99"/>
<rect x="538.26" y="476.78" width="23.18" height="4.60" fill="#FFFF99"/>
<rect x="562.44" y="476.78" width="23.51" height="4.60" fill="#FFFF99"/>
<rect x="5.00" y="483.00" width="587.00" height="7.20" fill="#C5D9F1"/>
<rect x="5.00" y="483.00" width="587.00" height="1.80" fill="#1B365D"/>
<rect x="5.00" y="484.80" width="587.00" height="0.80" fill="#D6E3F4"/>
<rect x="221.60" y="491.18" width="26.40" height="5.90" fill="#111"/>
<rect x="222.75" y="492.28" width="24.10" height="3.70" fill="#FCFCFF"/>
<rect x="5.10" y="499.30" width="586.90" height="7.00" fill="#538DD5"/>
<g font-family="Liberation Sans"><text transform="translate(38.6,82.4) rotate(-90)" text-anchor="middle" font-size="4.2" font-weight="bold" fill="#000" stroke="#000" stroke-width="0.12">MOBILE OPEX</text><text transform="translate(38.6,120.0) rotate(-90)" text-anchor="middle" font-size="4.2" font-weight="bold" fill="#000" stroke="#000" stroke-width="0.12">TV OPEX</text></g>
</svg>
<div class="L" id="t0">
<span style="top:49px;font-size:4.6px;color:#fff;font-weight:bold;-webkit-text-stroke:0.18px #fff;left:6.50px;">Model Checks are OK</span>
<span style="top:44px;font-size:4.5px;color:#fff;font-weight:bold;letter-spacing:-0.117px;-webkit-text-stroke:0.18px #fff;left:180.30px;">Start of period</span>
<span style="top:55px;font-size:4.5px;color:#fff;font-weight:bold;letter-spacing:-0.174px;-webkit-text-stroke:0.18px #fff;left:180.30px;">Period Number</span>
<span style="top:37px;font-size:4.5px;color:#fff;font-weight:bold;-webkit-text-stroke:0.18px #fff;left:223.37px;width:24.28px;text-align:center;">Actual</span>
<span style="top:43px;font-size:4.5px;color:#fff;font-weight:bold;letter-spacing:-0.040px;-webkit-text-stroke:0.18px #fff;left:220.67px;width:30.28px;text-align:center;">01-Jan-20</span>
<span style="top:49px;font-size:4.5px;color:#fff;font-weight:bold;letter-spacing:-0.052px;-webkit-text-stroke:0.18px #fff;left:220.67px;width:30.28px;text-align:center;">31-Dec-20</span>
<span style="top:55px;font-size:4.5px;color:#fff;font-weight:bold;-webkit-text-stroke:0.18px #fff;left:223.37px;width:24.28px;text-align:center;">0</span>
<span style="top:37px;font-size:4.5px;color:#E8101C;font-weight:bold;-webkit-text-stroke:0.18px #E8101C;left:247.55px;width:24.28px;text-align:center;">Forecast</span>
<span style="top:43px;font-size:4.5px;color:#fff;font-weight:bold;letter-spacing:-0.040px;-webkit-text-stroke:0.18px #fff;left:244.85px;width:30.28px;text-align:center;">01-Jan-21</span>
<span style="top:49px;font-size:4.5px;color:#fff;font-weight:bold;letter-spacing:-0.052px;-webkit-text-stroke:0.18px #fff;left:244.85px;width:30.28px;text-align:center;">31-Dec-21</span>
<span style="top:55px;font-size:4.5px;color:#fff;font-weight:bold;-webkit-text-stroke:0.18px #fff;left:247.55px;width:24.28px;text-align:center;">1</span>
<span style="top:37px;font-size:4.5px;color:#E8101C;font-weight:bold;-webkit-text-stroke:0.18px #E8101C;left:271.73px;width:24.28px;text-align:center;">Forecast</span>
<span style="top:43px;font-size:4.5px;color:#fff;font-weight:bold;letter-spacing:-0.040px;-webkit-text-stroke:0.18px #fff;left:269.03px;width:30.28px;text-align:center;">01-Jan-22</span>
<span style="top:49px;font-size:4.5px;color:#fff;font-weight:bold;letter-spacing:-0.052px;-webkit-text-stroke:0.18px #fff;left:269.03px;width:30.28px;text-align:center;">31-Dec-22</span>
<span style="top:55px;font-size:4.5px;color:#fff;font-weight:bold;-webkit-text-stroke:0.18px #fff;left:271.73px;width:24.28px;text-align:center;">2</span>
<span style="top:37px;font-size:4.5px;color:#E8101C;font-weight:bold;-webkit-text-stroke:0.18px #E8101C;left:295.91px;width:24.28px;text-align:center;">Forecast</span>
<span style="top:43px;font-size:4.5px;color:#fff;font-weight:bold;letter-spacing:-0.040px;-webkit-text-stroke:0.18px #fff;left:293.21px;width:30.28px;text-align:center;">01-Jan-23</span>
<span style="top:49px;font-size:4.5px;color:#fff;font-weight:bold;letter-spacing:-0.052px;-webkit-text-stroke:0.18px #fff;left:293.21px;width:30.28px;text-align:center;">31-Dec-23</span>
<span style="top:55px;font-size:4.5px;color:#fff;font-weight:bold;-webkit-text-stroke:0.18px #fff;left:295.91px;width:24.28px;text-align:center;">3</span>
<span style="top:37px;font-size:4.5px;color:#E8101C;font-weight:bold;-webkit-text-stroke:0.18px #E8101C;left:320.09px;width:24.28px;text-align:center;">Forecast</span>
<span style="top:43px;font-size:4.5px;color:#fff;font-weight:bold;letter-spacing:-0.040px;-webkit-text-stroke:0.18px #fff;left:317.39px;width:30.28px;text-align:center;">01-Jan-24</span>
<span style="top:49px;font-size:4.5px;color:#fff;font-weight:bold;letter-spacing:-0.052px;-webkit-text-stroke:0.18px #fff;left:317.39px;width:30.28px;text-align:center;">31-Dec-24</span>
<span style="top:55px;font-size:4.5px;color:#fff;font-weight:bold;-webkit-text-stroke:0.18px #fff;left:320.09px;width:24.28px;text-align:center;">4</span>
<span style="top:37px;font-size:4.5px;color:#E8101C;font-weight:bold;-webkit-text-stroke:0.18px #E8101C;left:344.27px;width:24.28px;text-align:center;">Forecast</span>
<span style="top:43px;font-size:4.5px;color:#fff;font-weight:bold;letter-spacing:-0.040px;-webkit-text-stroke:0.18px #fff;left:341.57px;width:30.28px;text-align:center;">01-Jan-25</span>
<span style="top:49px;font-size:4.5px;color:#fff;font-weight:bold;letter-spacing:-0.052px;-webkit-text-stroke:0.18px #fff;left:341.57px;width:30.28px;text-align:center;">31-Dec-25</span>
<span style="top:55px;font-size:4.5px;color:#fff;font-weight:bold;-webkit-text-stroke:0.18px #fff;left:344.27px;width:24.28px;text-align:center;">5</span>
<span style="top:37px;font-size:4.5px;color:#E8101C;font-weight:bold;-webkit-text-stroke:0.18px #E8101C;left:368.45px;width:24.28px;text-align:center;">Forecast</span>
<span style="top:43px;font-size:4.5px;color:#fff;font-weight:bold;letter-spacing:-0.040px;-webkit-text-stroke:0.18px #fff;left:365.75px;width:30.28px;text-align:center;">01-Jan-26</span>
<span style="top:49px;font-size:4.5px;color:#fff;font-weight:bold;letter-spacing:-0.052px;-webkit-text-stroke:0.18px #fff;left:365.75px;width:30.28px;text-align:center;">31-Dec-26</span>
<span style="top:55px;font-size:4.5px;color:#fff;font-weight:bold;-webkit-text-stroke:0.18px #fff;left:368.45px;width:24.28px;text-align:center;">6</span>
<span style="top:37px;font-size:4.5px;color:#E8101C;font-weight:bold;-webkit-text-stroke:0.18px #E8101C;left:392.63px;width:24.28px;text-align:center;">Forecast</span>
<span style="top:43px;font-size:4.5px;color:#fff;font-weight:bold;letter-spacing:-0.040px;-webkit-text-stroke:0.18px #fff;left:389.93px;width:30.28px;text-align:center;">01-Jan-27</span>
<span style="top:49px;font-size:4.5px;color:#fff;font-weight:bold;letter-spacing:-0.052px;-webkit-text-stroke:0.18px #fff;left:389.93px;width:30.28px;text-align:center;">31-Dec-27</span>
<span style="top:55px;font-size:4.5px;color:#fff;font-weight:bold;-webkit-text-stroke:0.18px #fff;left:392.63px;width:24.28px;text-align:center;">7</span>
<span style="top:37px;font-size:4.5px;color:#E8101C;font-weight:bold;-webkit-text-stroke:0.18px #E8101C;left:416.81px;width:24.28px;text-align:center;">Forecast</span>
<span style="top:43px;font-size:4.5px;color:#fff;font-weight:bold;letter-spacing:-0.040px;-webkit-text-stroke:0.18px #fff;left:414.11px;width:30.28px;text-align:center;">01-Jan-28</span>
<span style="top:49px;font-size:4.5px;color:#fff;font-weight:bold;letter-spacing:-0.052px;-webkit-text-stroke:0.18px #fff;left:414.11px;width:30.28px;text-align:center;">31-Dec-28</span>
<span style="top:55px;font-size:4.5px;color:#fff;font-weight:bold;-webkit-text-stroke:0.18px #fff;left:416.81px;width:24.28px;text-align:center;">8</span>
<span style="top:37px;font-size:4.5px;color:#E8101C;font-weight:bold;-webkit-text-stroke:0.18px #E8101C;left:440.99px;width:24.28px;text-align:center;">Forecast</span>
<span style="top:43px;font-size:4.5px;color:#fff;font-weight:bold;letter-spacing:-0.040px;-webkit-text-stroke:0.18px #fff;left:438.29px;width:30.28px;text-align:center;">01-Jan-29</span>
<span style="top:49px;font-size:4.5px;color:#fff;font-weight:bold;letter-spacing:-0.052px;-webkit-text-stroke:0.18px #fff;left:438.29px;width:30.28px;text-align:center;">31-Dec-29</span>
<span style="top:55px;font-size:4.5px;color:#fff;font-weight:bold;-webkit-text-stroke:0.18px #fff;left:440.99px;width:24.28px;text-align:center;">9</span>
<span style="top:37px;font-size:4.5px;color:#E8101C;font-weight:bold;-webkit-text-stroke:0.18px #E8101C;left:465.17px;width:24.28px;text-align:center;">Forecast</span>
<span style="top:43px;font-size:4.5px;color:#fff;font-weight:bold;letter-spacing:-0.040px;-webkit-text-stroke:0.18px #fff;left:462.47px;width:30.28px;text-align:center;">01-Jan-30</span>
<span style="top:49px;font-size:4.5px;color:#fff;font-weight:bold;letter-spacing:-0.052px;-webkit-text-stroke:0.18px #fff;left:462.47px;width:30.28px;text-align:center;">31-Dec-30</span>
<span style="top:55px;font-size:4.5px;color:#fff;font-weight:bold;-webkit-text-stroke:0.18px #fff;left:465.17px;width:24.28px;text-align:center;">10</span>
<span style="top:37px;font-size:4.5px;color:#E8101C;font-weight:bold;-webkit-text-stroke:0.18px #E8101C;left:489.35px;width:24.28px;text-align:center;">Forecast</span>
<span style="top:43px;font-size:4.5px;color:#fff;font-weight:bold;letter-spacing:-0.040px;-webkit-text-stroke:0.18px #fff;left:486.65px;width:30.28px;text-align:center;">01-Jan-31</span>
<span style="top:49px;font-size:4.5px;color:#fff;font-weight:bold;letter-spacing:-0.052px;-webkit-text-stroke:0.18px #fff;left:486.65px;width:30.28px;text-align:center;">31-Dec-31</span>
<span style="top:55px;font-size:4.5px;color:#fff;font-weight:bold;-webkit-text-stroke:0.18px #fff;left:489.35px;width:24.28px;text-align:center;">11</span>
<span style="top:37px;font-size:4.5px;color:#E8101C;font-weight:bold;-webkit-text-stroke:0.18px #E8101C;left:513.53px;width:24.28px;text-align:center;">Forecast</span>
<span style="top:43px;font-size:4.5px;color:#fff;font-weight:bold;letter-spacing:-0.040px;-webkit-text-stroke:0.18px #fff;left:510.83px;width:30.28px;text-align:center;">01-Jan-32</span>
<span style="top:49px;font-size:4.5px;color:#fff;font-weight:bold;letter-spacing:-0.052px;-webkit-text-stroke:0.18px #fff;left:510.83px;width:30.28px;text-align:center;">31-Dec-32</span>
<span style="top:55px;font-size:4.5px;color:#fff;font-weight:bold;-webkit-text-stroke:0.18px #fff;left:513.53px;width:24.28px;text-align:center;">12</span>
<span style="top:37px;font-size:4.5px;color:#E8101C;font-weight:bold;-webkit-text-stroke:0.18px #E8101C;left:537.71px;width:24.28px;text-align:center;">Forecast</span>
<span style="top:43px;font-size:4.5px;color:#fff;font-weight:bold;letter-spacing:-0.040px;-webkit-text-stroke:0.18px #fff;left:535.01px;width:30.28px;text-align:center;">01-Jan-33</span>
<span style="top:49px;font-size:4.5px;color:#fff;font-weight:bold;letter-spacing:-0.052px;-webkit-text-stroke:0.18px #fff;left:535.01px;width:30.28px;text-align:center;">31-Dec-33</span>
<span style="top:55px;font-size:4.5px;color:#fff;font-weight:bold;-webkit-text-stroke:0.18px #fff;left:537.71px;width:24.28px;text-align:center;">13</span>
<span style="top:37px;font-size:4.5px;color:#E8101C;font-weight:bold;-webkit-text-stroke:0.18px #E8101C;left:561.89px;width:24.28px;text-align:center;">Forecast</span>
<span style="top:43px;font-size:4.5px;color:#fff;font-weight:bold;letter-spacing:-0.040px;-webkit-text-stroke:0.18px #fff;left:559.19px;width:30.28px;text-align:center;">01-Jan-34</span>
<span style="top:49px;font-size:4.5px;color:#fff;font-weight:bold;letter-spacing:-0.052px;-webkit-text-stroke:0.18px #fff;left:559.19px;width:30.28px;text-align:center;">31-Dec-34</span>
<span style="top:55px;font-size:4.5px;color:#fff;font-weight:bold;-webkit-text-stroke:0.18px #fff;left:561.89px;width:24.28px;text-align:center;">14</span>
<span style="top:19px;font-size:4.4px;color:#6498D6;letter-spacing:0.054px;left:359.80px;">Big 4</span>
<span style="top:19px;font-size:4.4px;color:#6498D6;letter-spacing:0.059px;left:380.60px;">Wall Street</span>
<span style="top:60px;font-size:4.2px;color:#000;-webkit-text-stroke:0.1px #000;left:47.40px;">Network</span>
<span style="top:60px;font-size:4.2px;color:#000;-webkit-text-stroke:0.1px #000;left:118.30px;width:40.00px;text-align:center;">$</span>
<span style="top:61px;font-size:3.9px;color:#0000D8;-webkit-text-stroke:0.2px #0000D8;left:176.70px;width:40.20px;text-align:center;">20,000,000</span>
<span style="top:66px;font-size:3.9px;color:#0000D8;-webkit-text-stroke:0.2px #0000D8;left:176.70px;width:40.20px;text-align:center;">2,500,000</span>
<span style="top:77px;font-size:4.2px;color:#000;-webkit-text-stroke:0.1px #000;left:47.40px;">Bill Collection Fees</span>
<span style="top:77px;font-size:4.2px;color:#000;-webkit-text-stroke:0.1px #000;left:118.30px;width:40.00px;text-align:center;">%</span>
<span style="top:88px;font-size:3.9px;color:#0000D8;-webkit-text-stroke:0.2px #0000D8;left:176.70px;width:40.20px;text-align:center;">20,000,000</span>
<span style="top:99px;font-size:3.9px;color:#0000D8;-webkit-text-stroke:0.2px #0000D8;left:176.70px;width:40.20px;text-align:center;">10,000,000</span>
<span style="top:77px;font-size:3.9px;color:#0000D8;-webkit-text-stroke:0.2px #0000D8;left:223.74px;width:24.28px;text-align:center;">1.00%</span>
<span style="top:77px;font-size:3.9px;color:#0000D8;-webkit-text-stroke:0.2px #0000D8;left:248.45px;width:24.28px;text-align:center;">1.00%</span>
<span style="top:77px;font-size:3.9px;color:#0000D8;-webkit-text-stroke:0.2px #0000D8;left:272.63px;width:24.28px;text-align:center;">0.90%</span>
<span style="top:77px;font-size:3.9px;color:#0000D8;-webkit-text-stroke:0.2px #0000D8;left:296.81px;width:24.28px;text-align:center;">0.90%</span>
<span style="top:77px;font-size:3.9px;color:#0000D8;-webkit-text-stroke:0.2px #0000D8;left:320.99px;width:24.28px;text-align:center;">0.80%</span>
<span style="top:77px;font-size:3.9px;color:#0000D8;-webkit-text-stroke:0.2px #0000D8;left:345.17px;width:24.28px;text-align:center;">0.80%</span>
<span style="top:77px;font-size:3.9px;color:#0000D8;-webkit-text-stroke:0.2px #0000D8;left:369.35px;width:24.28px;text-align:center;">0.80%</span>
<span style="top:77px;font-size:3.9px;color:#0000D8;-webkit-text-stroke:0.2px #0000D8;left:393.53px;width:24.28px;text-align:center;">0.80%</span>
<span style="top:77px;font-size:3.9px;color:#0000D8;-webkit-text-stroke:0.2px #0000D8;left:417.71px;width:24.28px;text-align:center;">0.80%</span>
<span style="top:77px;font-size:3.9px;color:#0000D8;-webkit-text-stroke:0.2px #0000D8;left:441.89px;width:24.28px;text-align:center;">0.80%</span>
<span style="top:77px;font-size:3.9px;color:#0000D8;-webkit-text-stroke:0.2px #0000D8;left:466.07px;width:24.28px;text-align:center;">0.80%</span>
<span style="top:77px;font-size:3.9px;color:#0000D8;-webkit-text-stroke:0.2px #0000D8;left:490.25px;width:24.28px;text-align:center;">0.80%</span>
<span style="top:77px;font-size:3.9px;color:#0000D8;-webkit-text-stroke:0.2px #0000D8;left:514.43px;width:24.28px;text-align:center;">0.80%</span>
<span style="top:77px;font-size:3.9px;color:#0000D8;-webkit-text-stroke:0.2px #0000D8;left:538.61px;width:24.28px;text-align:center;">0.80%</span>
<span style="top:77px;font-size:3.9px;color:#0000D8;-webkit-text-stroke:0.2px #0000D8;left:562.95px;width:24.28px;text-align:center;">0.80%</span>
<span style="top:93px;font-size:3.9px;color:#0000D8;-webkit-text-stroke:0.2px #0000D8;left:223.74px;width:24.28px;text-align:center;">95%</span>
<span style="top:93px;font-size:3.9px;color:#0000D8;-webkit-text-stroke:0.2px #0000D8;left:248.45px;width:24.28px;text-align:center;">94%</span>
<span style="top:93px;font-size:3.9px;color:#0000D8;-webkit-text-stroke:0.2px #0000D8;left:272.63px;width:24.28px;text-align:center;">93%</span>
<span style="top:93px;font-size:3.9px;color:#0000D8;-webkit-text-stroke:0.2px #0000D8;left:296.81px;width:24.28px;text-align:center;">92%</span>
<span style="top:93px;font-size:3.9px;color:#0000D8;-webkit-text-stroke:0.2px #0000D8;left:320.99px;width:24.28px;text-align:center;">91%</span>
<span style="top:93px;font-size:3.9px;color:#0000D8;-webkit-text-stroke:0.2px #0000D8;left:345.17px;width:24.28px;text-align:center;">90%</span>
<span style="top:93px;font-size:3.9px;color:#0000D8;-webkit-text-stroke:0.2px #0000D8;left:369.35px;width:24.28px;text-align:center;">90%</span>
<span style="top:93px;font-size:3.9px;color:#0000D8;-webkit-text-stroke:0.2px #0000D8;left:393.53px;width:24.28px;text-align:center;">90%</span>
<span style="top:93px;font-size:3.9px;color:#0000D8;-webkit-text-stroke:0.2px #0000D8;left:417.71px;width:24.28px;text-align:center;">90%</span>
<span style="top:93px;font-size:3.9px;color:#0000D8;-webkit-text-stroke:0.2px #0000D8;left:441.89px;width:24.28px;text-align:center;">90%</span>
<span style="top:93px;font-size:3.9px;color:#0000D8;-webkit-text-stroke:0.2px #0000D8;left:466.07px;width:24.28px;text-align:center;">90%</span>
<span style="top:93px;font-size:3.9px;color:#0000D8;-webkit-text-stroke:0.2px #0000D8;left:490.25px;width:24.28px;text-align:center;">90%</span>
<span style="top:93px;font-size:3.9px;color:#0000D8;-webkit-text-stroke:0.2px #0000D8;left:514.43px;width:24.28px;text-align:center;">90%</span>
<span style="top:93px;font-size:3.9px;color:#0000D8;-webkit-text-stroke:0.2px #0000D8;left:538.61px;width:24.28px;text-align:center;">90%</span>
<span style="top:93px;font-size:3.9px;color:#0000D8;-webkit-text-stroke:0.2px #0000D8;left:562.95px;width:24.28px;text-align:center;">90%</span>
<span style="top:106px;font-size:4.2px;color:#000;-webkit-text-stroke:0.1px #000;left:47.40px;">Monthly CPE / per new customer</span>
<span style="top:106px;font-size:4.2px;color:#000;-webkit-text-stroke:0.1px #000;left:118.30px;width:40.00px;text-align:center;">$ / Month</span>
<span style="top:117px;font-size:4.2px;color:#000;-webkit-text-stroke:0.1px #000;left:47.40px;">SAT related cost per customer</span>
<span style="top:117px;font-size:4.2px;color:#000;-webkit-text-stroke:0.1px #000;left:118.30px;width:40.00px;text-align:center;">$ / Month</span>
<span style="top:128px;font-size:4.2px;color:#000;-webkit-text-stroke:0.1px #000;left:47.40px;">SAC / per new customer</span>
<span style="top:128px;font-size:4.2px;color:#000;-webkit-text-stroke:0.1px #000;left:118.30px;width:40.00px;text-align:center;">$</span>
<span style="top:112px;font-size:3.9px;color:#0000D8;-webkit-text-stroke:0.2px #0000D8;left:223.74px;width:24.28px;text-align:center;">35.0</span>
<span style="top:112px;font-size:3.9px;color:#0000D8;-webkit-text-stroke:0.2px #0000D8;left:248.45px;width:24.28px;text-align:center;">35.0</span>
<span style="top:112px;font-size:3.9px;color:#0000D8;-webkit-text-stroke:0.2px #0000D8;left:272.63px;width:24.28px;text-align:center;">35.0</span>
<span style="top:112px;font-size:3.9px;color:#0000D8;-webkit-text-stroke:0.2px #0000D8;left:296.81px;width:24.28px;text-align:center;">35.0</span>
<span style="top:112px;font-size:3.9px;color:#0000D8;-webkit-text-stroke:0.2px #0000D8;left:320.99px;width:24.28px;text-align:center;">35.0</span>
<span style="top:112px;font-size:3.9px;color:#0000D8;-webkit-text-stroke:0.2px #0000D8;left:345.17px;width:24.28px;text-align:center;">35.0</span>
<span style="top:112px;font-size:3.9px;color:#0000D8;-webkit-text-stroke:0.2px #0000D8;left:369.35px;width:24.28px;text-align:center;">35.0</span>
<span style="top:112px;font-size:3.9px;color:#0000D8;-webkit-text-stroke:0.2px #0000D8;left:393.53px;width:24.28px;text-align:center;">35.0</span>
<span style="top:112px;font-size:3.9px;color:#0000D8;-webkit-text-stroke:0.2px #0000D8;left:417.71px;width:24.28px;text-align:center;">35.0</span>
<span style="top:112px;font-size:3.9px;color:#0000D8;-webkit-text-stroke:0.2px #0000D8;left:441.89px;width:24.28px;text-align:center;">35.0</span>
<span style="top:112px;font-size:3.9px;color:#0000D8;-webkit-text-stroke:0.2px #0000D8;left:466.07px;width:24.28px;text-align:center;">35.0</span>
<span style="top:112px;font-size:3.9px;color:#0000D8;-webkit-text-stroke:0.2px #0000D8;left:490.25px;width:24.28px;text-align:center;">35.0</span>
<span style="top:112px;font-size:3.9px;color:#0000D8;-webkit-text-stroke:0.2px #0000D8;left:514.43px;width:24.28px;text-align:center;">35.0</span>
<span style="top:112px;font-size:3.9px;color:#0000D8;-webkit-text-stroke:0.2px #0000D8;left:538.61px;width:24.28px;text-align:center;">35.0</span>
<span style="top:112px;font-size:3.9px;color:#0000D8;-webkit-text-stroke:0.2px #0000D8;left:562.95px;width:24.28px;text-align:center;">35.0</span>
<span style="top:123px;font-size:3.9px;color:#0000D8;-webkit-text-stroke:0.2px #0000D8;left:223.74px;width:24.28px;text-align:center;">4.0</span>
<span style="top:123px;font-size:3.9px;color:#0000D8;-webkit-text-stroke:0.2px #0000D8;left:248.45px;width:24.28px;text-align:center;">3.5</span>
<span style="top:123px;font-size:3.9px;color:#0000D8;-webkit-text-stroke:0.2px #0000D8;left:272.63px;width:24.28px;text-align:center;">3.5</span>
<span style="top:123px;font-size:3.9px;color:#0000D8;-webkit-text-stroke:0.2px #0000D8;left:296.81px;width:24.28px;text-align:center;">3.5</span>
<span style="top:123px;font-size:3.9px;color:#0000D8;-webkit-text-stroke:0.2px #0000D8;left:320.99px;width:24.28px;text-align:center;">3.0</span>
<span style="top:123px;font-size:3.9px;color:#0000D8;-webkit-text-stroke:0.2px #0000D8;left:345.17px;width:24.28px;text-align:center;">2.5</span>
<span style="top:123px;font-size:3.9px;color:#0000D8;-webkit-text-stroke:0.2px #0000D8;left:369.35px;width:24.28px;text-align:center;">2.5</span>
<span style="top:123px;font-size:3.9px;color:#0000D8;-webkit-text-stroke:0.2px #0000D8;left:393.53px;width:24.28px;text-align:center;">2.5</span>
<span style="top:123px;font-size:3.9px;color:#0000D8;-webkit-text-stroke:0.2px #0000D8;left:417.71px;width:24.28px;text-align:center;">2.5</span>
<span style="top:123px;font-size:3.9px;color:#0000D8;-webkit-text-stroke:0.2px #0000D8;left:441.89px;width:24.28px;text-align:center;">2.5</span>
<span style="top:123px;font-size:3.9px;color:#0000D8;-webkit-text-stroke:0.2px #0000D8;left:466.07px;width:24.28px;text-align:center;">2.5</span>
<span style="top:123px;font-size:3.9px;color:#0000D8;-webkit-text-stroke:0.2px #0000D8;left:490.25px;width:24.28px;text-align:center;">2.5</span>
<span style="top:123px;font-size:3.9px;color:#0000D8;-webkit-text-stroke:0.2px #0000D8;left:514.43px;width:24.28px;text-align:center;">2.5</span>
<span style="top:123px;font-size:3.9px;color:#0000D8;-webkit-text-stroke:0.2px #0000D8;left:538.61px;width:24.28px;text-align:center;">2.5</span>
<span style="top:123px;font-size:3.9px;color:#0000D8;-webkit-text-stroke:0.2px #0000D8;left:562.95px;width:24.28px;text-align:center;">2.5</span>
<span style="top:137px;font-size:4.9px;color:#000;font-weight:bold;-webkit-text-stroke:0.12px #000;left:8.20px;">9 .</span>
<span style="top:137px;font-size:4.9px;color:#000;font-weight:bold;-webkit-text-stroke:0.12px #000;left:17.60px;">Non Current Assets</span>
<span style="top:169px;font-size:4.2px;color:#000;-webkit-text-stroke:0.1px #000;left:47.40px;">Tangible Assets</span>
<span style="top:169px;font-size:4.2px;color:#000;-webkit-text-stroke:0.1px #000;left:118.30px;width:40.00px;text-align:center;">$</span>
<span style="top:174px;font-size:3.9px;color:#0000D8;font-weight:bold;-webkit-text-stroke:0.08px #0000D8;left:219.50px;width:31.20px;text-align:center;">110,000,000</span>
<span style="top:183px;font-size:4.9px;color:#000;font-weight:bold;-webkit-text-stroke:0.12px #000;left:30.80px;">9.1.2</span>
<span style="top:183px;font-size:4.9px;color:#000;font-weight:bold;-webkit-text-stroke:0.12px #000;left:47.50px;">Accumulated Depreciation</span>
<span style="top:197px;font-size:4.2px;color:#000;-webkit-text-stroke:0.1px #000;left:47.40px;">Tangible Assets</span>
<span style="top:197px;font-size:4.2px;color:#000;-webkit-text-stroke:0.1px #000;left:118.30px;width:40.00px;text-align:center;">$</span>
<span style="top:203px;font-size:3.9px;color:#0000D8;font-weight:bold;-webkit-text-stroke:0.08px #0000D8;left:219.50px;width:31.20px;text-align:center;">30,000,000</span>
<span style="top:219px;font-size:3.9px;color:#0000D8;-webkit-text-stroke:0.2px #0000D8;left:146.15px;width:36.65px;text-align:center;">10%</span>
<span style="top:219px;font-size:3.9px;color:#000;-webkit-text-stroke:0.2px #000;left:176.80px;width:40.00px;text-align:center;">10.00</span>
<span style="top:224px;font-size:3.9px;color:#0000D8;-webkit-text-stroke:0.2px #0000D8;left:146.15px;width:36.65px;text-align:center;">20%</span>
<span style="top:224px;font-size:3.9px;color:#000;-webkit-text-stroke:0.2px #000;left:176.80px;width:40.00px;text-align:center;">5.00</span>
<span style="top:241px;font-size:4.9px;color:#000;font-weight:bold;-webkit-text-stroke:0.12px #000;left:30.80px;">9.2.1</span>
<span style="top:241px;font-size:4.9px;color:#000;font-weight:bold;-webkit-text-stroke:0.12px #000;left:47.50px;">Remaining Useful Life and Depreciation Rate</span>
<span style="top:248px;font-size:4.2px;color:#000;-webkit-text-stroke:0.1px #000;left:47.40px;">Tangible Assets</span>
<span style="top:248px;font-size:4.2px;color:#000;-webkit-text-stroke:0.1px #000;left:118.30px;width:40.00px;text-align:center;">% / Years</span>
<span style="top:254px;font-size:3.9px;color:#0000D8;-webkit-text-stroke:0.2px #0000D8;left:146.15px;width:36.65px;text-align:center;">20%</span>
<span style="top:254px;font-size:3.9px;color:#000;-webkit-text-stroke:0.2px #000;left:176.80px;width:40.00px;text-align:center;">5.00</span>
<span style="top:262px;font-size:4.9px;color:#000;font-weight:bold;-webkit-text-stroke:0.12px #000;left:30.80px;">9.2.2</span>
<span style="top:262px;font-size:4.9px;color:#000;font-weight:bold;-webkit-text-stroke:0.12px #000;left:47.50px;">Tangible Assets</span>
<span style="top:270px;font-size:4.2px;color:#000;-webkit-text-stroke:0.1px #000;left:47.40px;">Capex / Sales</span>
<span style="top:270px;font-size:4.2px;color:#000;-webkit-text-stroke:0.1px #000;left:118.30px;width:40.00px;text-align:center;">%</span>
<span style="top:270px;font-size:3.9px;color:#0000D8;-webkit-text-stroke:0.2px #0000D8;left:248.50px;width:24.28px;text-align:center;">10.0%</span>
<span style="top:270px;font-size:3.9px;color:#0000D8;-webkit-text-stroke:0.2px #0000D8;left:272.63px;width:24.28px;text-align:center;">10.0%</span>
<span style="top:270px;font-size:3.9px;color:#0000D8;-webkit-text-stroke:0.2px #0000D8;left:296.81px;width:24.28px;text-align:center;">10.0%</span>
<span style="top:270px;font-size:3.9px;color:#0000D8;-webkit-text-stroke:0.2px #0000D8;left:320.99px;width:24.28px;text-align:center;">10.0%</span>
<span style="top:270px;font-size:3.9px;color:#0000D8;-webkit-text-stroke:0.2px #0000D8;left:345.17px;width:24.28px;text-align:center;">10.0%</span>
<span style="top:270px;font-size:3.9px;color:#0000D8;-webkit-text-stroke:0.2px #0000D8;left:369.35px;width:24.28px;text-align:center;">10.0%</span>
<span style="top:270px;font-size:3.9px;color:#0000D8;-webkit-text-stroke:0.2px #0000D8;left:393.53px;width:24.28px;text-align:center;">10.0%</span>
<span style="top:270px;font-size:3.9px;color:#0000D8;-webkit-text-stroke:0.2px #0000D8;left:417.71px;width:24.28px;text-align:center;">10.0%</span>
<span style="top:270px;font-size:3.9px;color:#0000D8;-webkit-text-stroke:0.2px #0000D8;left:441.89px;width:24.28px;text-align:center;">10.0%</span>
<span style="top:270px;font-size:3.9px;color:#0000D8;-webkit-text-stroke:0.2px #0000D8;left:466.07px;width:24.28px;text-align:center;">10.0%</span>
<span style="top:270px;font-size:3.9px;color:#0000D8;-webkit-text-stroke:0.2px #0000D8;left:490.25px;width:24.28px;text-align:center;">10.0%</span>
<span style="top:270px;font-size:3.9px;color:#0000D8;-webkit-text-stroke:0.2px #0000D8;left:514.43px;width:24.28px;text-align:center;">10.0%</span>
<span style="top:270px;font-size:3.9px;color:#0000D8;-webkit-text-stroke:0.2px #0000D8;left:538.61px;width:24.28px;text-align:center;">10.0%</span>
<span style="top:270px;font-size:3.9px;color:#0000D8;-webkit-text-stroke:0.2px #0000D8;left:562.95px;width:24.28px;text-align:center;">10.0%</span>
<span style="top:278px;font-size:4.9px;color:#000;font-weight:bold;-webkit-text-stroke:0.12px #000;left:30.80px;">9.2.3</span>
<span style="top:278px;font-size:4.9px;color:#000;font-weight:bold;-webkit-text-stroke:0.12px #000;left:47.50px;">Intangible Assets</span>
<span style="top:286px;font-size:4.2px;color:#000;-webkit-text-stroke:0.1px #000;left:47.40px;">Capex / Sales</span>
<span style="top:286px;font-size:4.2px;color:#000;-webkit-text-stroke:0.1px #000;left:118.30px;width:40.00px;text-align:center;">%</span>
<span style="top:303px;font-size:4.9px;color:#000;font-weight:bold;-webkit-text-stroke:0.12px #000;left:17.60px;">10.1</span>
<span style="top:303px;font-size:4.9px;color:#000;font-weight:bold;-webkit-text-stroke:0.12px #000;left:30.80px;">Current Assets</span>
<span style="top:327px;font-size:4.9px;color:#000;font-weight:bold;-webkit-text-stroke:0.12px #000;left:30.80px;">10.1.2</span>
<span style="top:327px;font-size:4.9px;color:#000;font-weight:bold;-webkit-text-stroke:0.12px #000;left:47.50px;">Receivables</span>
<span style="top:335px;font-size:3.9px;color:#0000D8;-webkit-text-stroke:0.2px #0000D8;left:248.50px;width:24.28px;text-align:center;">90.00</span>
<span style="top:335px;font-size:3.9px;color:#0000D8;-webkit-text-stroke:0.2px #0000D8;left:272.63px;width:24.28px;text-align:center;">90.00</span>
<span style="top:335px;font-size:3.9px;color:#0000D8;-webkit-text-stroke:0.2px #0000D8;left:296.81px;width:24.28px;text-align:center;">90.00</span>
<span style="top:335px;font-size:3.9px;color:#0000D8;-webkit-text-stroke:0.2px #0000D8;left:320.99px;width:24.28px;text-align:center;">90.00</span>
<span style="top:335px;font-size:3.9px;color:#0000D8;-webkit-text-stroke:0.2px #0000D8;left:345.17px;width:24.28px;text-align:center;">90.00</span>
<span style="top:335px;font-size:3.9px;color:#0000D8;-webkit-text-stroke:0.2px #0000D8;left:369.35px;width:24.28px;text-align:center;">90.00</span>
<span style="top:335px;font-size:3.9px;color:#0000D8;-webkit-text-stroke:0.2px #0000D8;left:393.53px;width:24.28px;text-align:center;">90.00</span>
<span style="top:335px;font-size:3.9px;color:#0000D8;-webkit-text-stroke:0.2px #0000D8;left:417.71px;width:24.28px;text-align:center;">90.00</span>
<span style="top:335px;font-size:3.9px;color:#0000D8;-webkit-text-stroke:0.2px #0000D8;left:441.89px;width:24.28px;text-align:center;">90.00</span>
<span style="top:335px;font-size:3.9px;color:#0000D8;-webkit-text-stroke:0.2px #0000D8;left:466.07px;width:24.28px;text-align:center;">90.00</span>
<span style="top:335px;font-size:3.9px;color:#0000D8;-webkit-text-stroke:0.2px #0000D8;left:490.25px;width:24.28px;text-align:center;">90.00</span>
<span style="top:335px;font-size:3.9px;color:#0000D8;-webkit-text-stroke:0.2px #0000D8;left:514.43px;width:24.28px;text-align:center;">90.00</span>
<span style="top:335px;font-size:3.9px;color:#0000D8;-webkit-text-stroke:0.2px #0000D8;left:538.61px;width:24.28px;text-align:center;">90.00</span>
<span style="top:335px;font-size:3.9px;color:#0000D8;-webkit-text-stroke:0.2px #0000D8;left:562.95px;width:24.28px;text-align:center;">90.00</span>
<span style="top:361px;font-size:4.2px;color:#000;-webkit-text-stroke:0.1px #000;left:47.40px;">Minimum Cash Balance</span>
<span style="top:361px;font-size:4.2px;color:#000;-webkit-text-stroke:0.1px #000;left:118.30px;width:40.00px;text-align:center;">$</span>
<span style="top:351px;font-size:3.9px;color:#0000D8;-webkit-text-stroke:0.2px #0000D8;left:248.50px;width:24.28px;text-align:center;">0.10%</span>
<span style="top:351px;font-size:3.9px;color:#0000D8;-webkit-text-stroke:0.2px #0000D8;left:272.63px;width:24.28px;text-align:center;">0.10%</span>
<span style="top:351px;font-size:3.9px;color:#0000D8;-webkit-text-stroke:0.2px #0000D8;left:296.81px;width:24.28px;text-align:center;">0.10%</span>
<span style="top:351px;font-size:3.9px;color:#0000D8;-webkit-text-stroke:0.2px #0000D8;left:320.99px;width:24.28px;text-align:center;">0.10%</span>
<span style="top:351px;font-size:3.9px;color:#0000D8;-webkit-text-stroke:0.2px #0000D8;left:345.17px;width:24.28px;text-align:center;">0.10%</span>
<span style="top:351px;font-size:3.9px;color:#0000D8;-webkit-text-stroke:0.2px #0000D8;left:369.35px;width:24.28px;text-align:center;">0.10%</span>
<span style="top:351px;font-size:3.9px;color:#0000D8;-webkit-text-stroke:0.2px #0000D8;left:393.53px;width:24.28px;text-align:center;">0.10%</span>
<span style="top:351px;font-size:3.9px;color:#0000D8;-webkit-text-stroke:0.2px #0000D8;left:417.71px;width:24.28px;text-align:center;">0.10%</span>
<span style="top:351px;font-size:3.9px;color:#0000D8;-webkit-text-stroke:0.2px #0000D8;left:441.89px;width:24.28px;text-align:center;">0.10%</span>
<span style="top:351px;font-size:3.9px;color:#0000D8;-webkit-text-stroke:0.2px #0000D8;left:466.07px;width:24.28px;text-align:center;">0.10%</span>
<span style="top:351px;font-size:3.9px;color:#0000D8;-webkit-text-stroke:0.2px #0000D8;left:490.25px;width:24.28px;text-align:center;">0.10%</span>
<span style="top:351px;font-size:3.9px;color:#0000D8;-webkit-text-stroke:0.2px #0000D8;left:514.43px;width:24.28px;text-align:center;">0.10%</span>
<span style="top:351px;font-size:3.9px;color:#0000D8;-webkit-text-stroke:0.2px #0000D8;left:538.61px;width:24.28px;text-align:center;">0.10%</span>
<span style="top:351px;font-size:3.9px;color:#0000D8;-webkit-text-stroke:0.2px #0000D8;left:562.95px;width:24.28px;text-align:center;">0.10%</span>
<span style="top:356px;font-size:3.9px;color:#556;left:169.30px;width:6.00px;text-align:center;">-</span>
<span style="top:386px;font-size:4.2px;color:#000;-webkit-text-stroke:0.1px #000;left:47.40px;">Payables Days</span>
<span style="top:386px;font-size:4.2px;color:#000;-webkit-text-stroke:0.1px #000;left:118.30px;width:40.00px;text-align:center;">Days</span>
<span style="top:402px;font-size:4.2px;color:#000;-webkit-text-stroke:0.1px #000;left:47.40px;">Other Payables Balance</span>
<span style="top:402px;font-size:4.2px;color:#000;-webkit-text-stroke:0.1px #000;left:118.30px;width:40.00px;text-align:center;">$</span>
<span style="top:402px;font-size:3.9px;color:#0000D8;-webkit-text-stroke:0.2px #0000D8;left:248.50px;width:24.28px;text-align:center;">0</span>
<span style="top:402px;font-size:3.9px;color:#0000D8;-webkit-text-stroke:0.2px #0000D8;left:272.63px;width:24.28px;text-align:center;">0</span>
<span style="top:402px;font-size:3.9px;color:#0000D8;-webkit-text-stroke:0.2px #0000D8;left:296.81px;width:24.28px;text-align:center;">0</span>
<span style="top:402px;font-size:3.9px;color:#0000D8;-webkit-text-stroke:0.2px #0000D8;left:320.99px;width:24.28px;text-align:center;">0</span>
<span style="top:402px;font-size:3.9px;color:#0000D8;-webkit-text-stroke:0.2px #0000D8;left:345.17px;width:24.28px;text-align:center;">0</span>
<span style="top:402px;font-size:3.9px;color:#0000D8;-webkit-text-stroke:0.2px #0000D8;left:369.35px;width:24.28px;text-align:center;">0</span>
<span style="top:402px;font-size:3.9px;color:#0000D8;-webkit-text-stroke:0.2px #0000D8;left:393.53px;width:24.28px;text-align:center;">0</span>
<span style="top:402px;font-size:3.9px;color:#0000D8;-webkit-text-stroke:0.2px #0000D8;left:417.71px;width:24.28px;text-align:center;">0</span>
<span style="top:402px;font-size:3.9px;color:#0000D8;-webkit-text-stroke:0.2px #0000D8;left:441.89px;width:24.28px;text-align:center;">0</span>
<span style="top:402px;font-size:3.9px;color:#0000D8;-webkit-text-stroke:0.2px #0000D8;left:466.07px;width:24.28px;text-align:center;">0</span>
<span style="top:402px;font-size:3.9px;color:#0000D8;-webkit-text-stroke:0.2px #0000D8;left:490.25px;width:24.28px;text-align:center;">0</span>
<span style="top:402px;font-size:3.9px;color:#0000D8;-webkit-text-stroke:0.2px #0000D8;left:514.43px;width:24.28px;text-align:center;">0</span>
<span style="top:402px;font-size:3.9px;color:#0000D8;-webkit-text-stroke:0.2px #0000D8;left:538.61px;width:24.28px;text-align:center;">0</span>
<span style="top:402px;font-size:3.9px;color:#0000D8;-webkit-text-stroke:0.2px #0000D8;left:562.95px;width:24.28px;text-align:center;">0</span>
<span style="top:427px;font-size:4.9px;color:#000;font-weight:bold;-webkit-text-stroke:0.12px #000;left:6.70px;">11 .</span>
<span style="top:427px;font-size:4.9px;color:#000;font-weight:bold;-webkit-text-stroke:0.12px #000;left:17.60px;">Financial Liabilities</span>
<span style="top:435px;font-size:4.9px;color:#000;font-weight:bold;-webkit-text-stroke:0.12px #000;left:17.60px;">11.1</span>
<span style="top:435px;font-size:4.9px;color:#000;font-weight:bold;-webkit-text-stroke:0.12px #000;left:30.80px;">Long Term Debt</span>
<span style="top:460px;font-size:4.2px;color:#000;-webkit-text-stroke:0.1px #000;left:47.40px;">Interest Rate</span>
<span style="top:460px;font-size:4.2px;color:#000;-webkit-text-stroke:0.1px #000;left:118.30px;width:40.00px;text-align:center;">%</span>
<span style="top:455px;font-size:3.9px;color:#0000D8;font-weight:bold;-webkit-text-stroke:0.08px #0000D8;left:145.75px;width:36.65px;text-align:center;">31-Dec-20</span>
</div>
<div class="L" id="t1">
<span style="top:14px;font-size:8.2px;color:#1F6AA6;font-weight:bold;letter-spacing:-0.302px;-webkit-text-stroke:0.15px #1F6AA6;left:6.90px;">Telecom Financial Model</span>
<span style="top:23px;font-size:7.9px;color:#fff;font-weight:bold;letter-spacing:-0.149px;-webkit-text-stroke:0.2px #fff;left:6.90px;">Inputs</span>
<span style="top:43px;font-size:4.6px;color:#fff;font-weight:bold;-webkit-text-stroke:0.18px #fff;left:6.50px;">The Model is in progress</span>
<span style="top:37px;font-size:4.5px;color:#fff;font-weight:bold;letter-spacing:-0.092px;-webkit-text-stroke:0.18px #fff;left:180.30px;">Period type</span>
<span style="top:49px;font-size:4.5px;color:#fff;font-weight:bold;letter-spacing:-0.138px;-webkit-text-stroke:0.18px #fff;left:180.30px;">End of period</span>
<span style="top:49px;font-size:2.9px;color:#1B2480;font-weight:bold;-webkit-text-stroke:0.1px #1B2480;left:212.70px;width:10.00px;text-align:center;">OK</span>
<span style="top:25px;font-size:2.6px;color:#111;font-weight:bold;letter-spacing:-0.240px;left:362.40px;width:40.00px;text-align:center;">Believe, Conceive, Excel</span>
<span style="top:65px;font-size:4.2px;color:#000;-webkit-text-stroke:0.1px #000;left:47.40px;">IT</span>
<span style="top:65px;font-size:4.2px;color:#000;-webkit-text-stroke:0.1px #000;left:118.30px;width:40.00px;text-align:center;">$</span>
<span style="top:71px;font-size:4.2px;color:#000;-webkit-text-stroke:0.1px #000;left:47.40px;">Regulatory Fees</span>
<span style="top:71px;font-size:4.2px;color:#000;-webkit-text-stroke:0.1px #000;left:118.30px;width:40.00px;text-align:center;">%</span>
<span style="top:82px;font-size:4.2px;color:#000;-webkit-text-stroke:0.1px #000;left:47.40px;">Printing &amp; Postal</span>
<span style="top:82px;font-size:4.2px;color:#000;-webkit-text-stroke:0.1px #000;left:118.30px;width:40.00px;text-align:center;">%</span>
<span style="top:87px;font-size:4.2px;color:#000;-webkit-text-stroke:0.1px #000;left:47.40px;">General &amp; Administrative</span>
<span style="top:87px;font-size:4.2px;color:#000;-webkit-text-stroke:0.1px #000;left:118.30px;width:40.00px;text-align:center;">$</span>
<span style="top:92px;font-size:4.2px;color:#000;-webkit-text-stroke:0.1px #000;left:47.40px;">FBB OPEX</span>
<span style="top:92px;font-size:4.2px;color:#000;-webkit-text-stroke:0.1px #000;left:118.30px;width:40.00px;text-align:center;">%</span>
<span style="top:98px;font-size:4.2px;color:#000;-webkit-text-stroke:0.1px #000;left:47.40px;">Co - Advertising</span>
<span style="top:98px;font-size:4.2px;color:#000;-webkit-text-stroke:0.1px #000;left:118.30px;width:40.00px;text-align:center;">$</span>
<span style="top:71px;font-size:3.9px;color:#0000D8;-webkit-text-stroke:0.2px #0000D8;left:223.74px;width:24.28px;text-align:center;">2.50%</span>
<span style="top:71px;font-size:3.9px;color:#0000D8;-webkit-text-stroke:0.2px #0000D8;left:248.45px;width:24.28px;text-align:center;">2.75%</span>
<span style="top:71px;font-size:3.9px;color:#0000D8;-webkit-text-stroke:0.2px #0000D8;left:272.63px;width:24.28px;text-align:center;">2.90%</span>
<span style="top:71px;font-size:3.9px;color:#0000D8;-webkit-text-stroke:0.2px #0000D8;left:296.81px;width:24.28px;text-align:center;">2.80%</span>
<span style="top:71px;font-size:3.9px;color:#0000D8;-webkit-text-stroke:0.2px #0000D8;left:320.99px;width:24.28px;text-align:center;">2.50%</span>
<span style="top:71px;font-size:3.9px;color:#0000D8;-webkit-text-stroke:0.2px #0000D8;left:345.17px;width:24.28px;text-align:center;">2.50%</span>
<span style="top:71px;font-size:3.9px;color:#0000D8;-webkit-text-stroke:0.2px #0000D8;left:369.35px;width:24.28px;text-align:center;">2.50%</span>
<span style="top:71px;font-size:3.9px;color:#0000D8;-webkit-text-stroke:0.2px #0000D8;left:393.53px;width:24.28px;text-align:center;">2.50%</span>
<span style="top:71px;font-size:3.9px;color:#0000D8;-webkit-text-stroke:0.2px #0000D8;left:417.71px;width:24.28px;text-align:center;">2.50%</span>
<span style="top:71px;font-size:3.9px;color:#0000D8;-webkit-text-stroke:0.2px #0000D8;left:441.89px;width:24.28px;text-align:center;">2.50%</span>
<span style="top:71px;font-size:3.9px;color:#0000D8;-webkit-text-stroke:0.2px #0000D8;left:466.07px;width:24.28px;text-align:center;">2.50%</span>
<span style="top:71px;font-size:3.9px;color:#0000D8;-webkit-text-stroke:0.2px #0000D8;left:490.25px;width:24.28px;text-align:center;">2.50%</span>
<span style="top:71px;font-size:3.9px;color:#0000D8;-webkit-text-stroke:0.2px #0000D8;left:514.43px;width:24.28px;text-align:center;">2.50%</span>
<span style="top:71px;font-size:3.9px;color:#0000D8;-webkit-text-stroke:0.2px #0000D8;left:538.61px;width:24.28px;text-align:center;">2.50%</span>
<span style="top:71px;font-size:3.9px;color:#0000D8;-webkit-text-stroke:0.2px #0000D8;left:562.95px;width:24.28px;text-align:center;">2.50%</span>
<span style="top:82px;font-size:3.9px;color:#0000D8;-webkit-text-stroke:0.2px #0000D8;left:223.74px;width:24.28px;text-align:center;">0.70%</span>
<span style="top:82px;font-size:3.9px;color:#0000D8;-webkit-text-stroke:0.2px #0000D8;left:248.45px;width:24.28px;text-align:center;">0.70%</span>
<span style="top:82px;font-size:3.9px;color:#0000D8;-webkit-text-stroke:0.2px #0000D8;left:272.63px;width:24.28px;text-align:center;">0.60%</span>
<span style="top:82px;font-size:3.9px;color:#0000D8;-webkit-text-stroke:0.2px #0000D8;left:296.81px;width:24.28px;text-align:center;">0.60%</span>
<span style="top:82px;font-size:3.9px;color:#0000D8;-webkit-text-stroke:0.2px #0000D8;left:320.99px;width:24.28px;text-align:center;">0.50%</span>
<span style="top:82px;font-size:3.9px;color:#0000D8;-webkit-text-stroke:0.2px #0000D8;left:345.17px;width:24.28px;text-align:center;">0.50%</span>
<span style="top:82px;font-size:3.9px;color:#0000D8;-webkit-text-stroke:0.2px #0000D8;left:369.35px;width:24.28px;text-align:center;">0.50%</span>
<span style="top:82px;font-size:3.9px;color:#0000D8;-webkit-text-stroke:0.2px #0000D8;left:393.53px;width:24.28px;text-align:center;">0.50%</span>
<span style="top:82px;font-size:3.9px;color:#0000D8;-webkit-text-stroke:0.2px #0000D8;left:417.71px;width:24.28px;text-align:center;">0.50%</span>
<span style="top:82px;font-size:3.9px;color:#0000D8;-webkit-text-stroke:0.2px #0000D8;left:441.89px;width:24.28px;text-align:center;">0.50%</span>
<span style="top:82px;font-size:3.9px;color:#0000D8;-webkit-text-stroke:0.2px #0000D8;left:466.07px;width:24.28px;text-align:center;">0.50%</span>
<span style="top:82px;font-size:3.9px;color:#0000D8;-webkit-text-stroke:0.2px #0000D8;left:490.25px;width:24.28px;text-align:center;">0.50%</span>
<span style="top:82px;font-size:3.9px;color:#0000D8;-webkit-text-stroke:0.2px #0000D8;left:514.43px;width:24.28px;text-align:center;">0.50%</span>
<span style="top:82px;font-size:3.9px;color:#0000D8;-webkit-text-stroke:0.2px #0000D8;left:538.61px;width:24.28px;text-align:center;">0.50%</span>
<span style="top:82px;font-size:3.9px;color:#0000D8;-webkit-text-stroke:0.2px #0000D8;left:562.95px;width:24.28px;text-align:center;">0.50%</span>
<span style="top:111px;font-size:4.2px;color:#000;-webkit-text-stroke:0.1px #000;left:47.40px;">Installation Costs / per new customer</span>
<span style="top:111px;font-size:4.2px;color:#000;-webkit-text-stroke:0.1px #000;left:118.30px;width:40.00px;text-align:center;">$</span>
<span style="top:122px;font-size:4.2px;color:#000;-webkit-text-stroke:0.1px #000;left:47.40px;">Content Cost / per customer</span>
<span style="top:122px;font-size:4.2px;color:#000;-webkit-text-stroke:0.1px #000;left:118.30px;width:40.00px;text-align:center;">$ / Month</span>
<span style="top:106px;font-size:3.9px;color:#0000D8;-webkit-text-stroke:0.2px #0000D8;left:223.74px;width:24.28px;text-align:center;">4.0</span>
<span style="top:106px;font-size:3.9px;color:#0000D8;-webkit-text-stroke:0.2px #0000D8;left:248.45px;width:24.28px;text-align:center;">5.0</span>
<span style="top:106px;font-size:3.9px;color:#0000D8;-webkit-text-stroke:0.2px #0000D8;left:272.63px;width:24.28px;text-align:center;">6.0</span>
<span style="top:106px;font-size:3.9px;color:#0000D8;-webkit-text-stroke:0.2px #0000D8;left:296.81px;width:24.28px;text-align:center;">7.0</span>
<span style="top:106px;font-size:3.9px;color:#0000D8;-webkit-text-stroke:0.2px #0000D8;left:320.99px;width:24.28px;text-align:center;">6.0</span>
<span style="top:106px;font-size:3.9px;color:#0000D8;-webkit-text-stroke:0.2px #0000D8;left:345.17px;width:24.28px;text-align:center;">6.0</span>
<span style="top:106px;font-size:3.9px;color:#0000D8;-webkit-text-stroke:0.2px #0000D8;left:369.35px;width:24.28px;text-align:center;">6.0</span>
<span style="top:106px;font-size:3.9px;color:#0000D8;-webkit-text-stroke:0.2px #0000D8;left:393.53px;width:24.28px;text-align:center;">6.0</span>
<span style="top:106px;font-size:3.9px;color:#0000D8;-webkit-text-stroke:0.2px #0000D8;left:417.71px;width:24.28px;text-align:center;">6.0</span>
<span style="top:106px;font-size:3.9px;color:#0000D8;-webkit-text-stroke:0.2px #0000D8;left:441.89px;width:24.28px;text-align:center;">6.0</span>
<span style="top:106px;font-size:3.9px;color:#0000D8;-webkit-text-stroke:0.2px #0000D8;left:466.07px;width:24.28px;text-align:center;">6.0</span>
<span style="top:106px;font-size:3.9px;color:#0000D8;-webkit-text-stroke:0.2px #0000D8;left:490.25px;width:24.28px;text-align:center;">6.0</span>
<span style="top:106px;font-size:3.9px;color:#0000D8;-webkit-text-stroke:0.2px #0000D8;left:514.43px;width:24.28px;text-align:center;">6.0</span>
<span style="top:106px;font-size:3.9px;color:#0000D8;-webkit-text-stroke:0.2px #0000D8;left:538.61px;width:24.28px;text-align:center;">6.0</span>
<span style="top:106px;font-size:3.9px;color:#0000D8;-webkit-text-stroke:0.2px #0000D8;left:562.95px;width:24.28px;text-align:center;">6.0</span>
<span style="top:117px;font-size:3.9px;color:#0000D8;-webkit-text-stroke:0.2px #0000D8;left:223.74px;width:24.28px;text-align:center;">4.0</span>
<span style="top:117px;font-size:3.9px;color:#0000D8;-webkit-text-stroke:0.2px #0000D8;left:248.45px;width:24.28px;text-align:center;">3.0</span>
<span style="top:117px;font-size:3.9px;color:#0000D8;-webkit-text-stroke:0.2px #0000D8;left:272.63px;width:24.28px;text-align:center;">2.0</span>
<span style="top:117px;font-size:3.9px;color:#0000D8;-webkit-text-stroke:0.2px #0000D8;left:296.81px;width:24.28px;text-align:center;">2.0</span>
<span style="top:117px;font-size:3.9px;color:#0000D8;-webkit-text-stroke:0.2px #0000D8;left:320.99px;width:24.28px;text-align:center;">1.5</span>
<span style="top:117px;font-size:3.9px;color:#0000D8;-webkit-text-stroke:0.2px #0000D8;left:345.17px;width:24.28px;text-align:center;">1.0</span>
<span style="top:117px;font-size:3.9px;color:#0000D8;-webkit-text-stroke:0.2px #0000D8;left:369.35px;width:24.28px;text-align:center;">0.5</span>
<span style="top:117px;font-size:3.9px;color:#0000D8;-webkit-text-stroke:0.2px #0000D8;left:393.53px;width:24.28px;text-align:center;">0.5</span>
<span style="top:117px;font-size:3.9px;color:#0000D8;-webkit-text-stroke:0.2px #0000D8;left:417.71px;width:24.28px;text-align:center;">0.5</span>
<span style="top:117px;font-size:3.9px;color:#0000D8;-webkit-text-stroke:0.2px #0000D8;left:441.89px;width:24.28px;text-align:center;">0.5</span>
<span style="top:117px;font-size:3.9px;color:#0000D8;-webkit-text-stroke:0.2px #0000D8;left:466.07px;width:24.28px;text-align:center;">0.5</span>
<span style="top:117px;font-size:3.9px;color:#0000D8;-webkit-text-stroke:0.2px #0000D8;left:490.25px;width:24.28px;text-align:center;">0.5</span>
<span style="top:117px;font-size:3.9px;color:#0000D8;-webkit-text-stroke:0.2px #0000D8;left:514.43px;width:24.28px;text-align:center;">0.5</span>
<span style="top:117px;font-size:3.9px;color:#0000D8;-webkit-text-stroke:0.2px #0000D8;left:538.61px;width:24.28px;text-align:center;">0.5</span>
<span style="top:117px;font-size:3.9px;color:#0000D8;-webkit-text-stroke:0.2px #0000D8;left:562.95px;width:24.28px;text-align:center;">0.5</span>
<span style="top:128px;font-size:3.9px;color:#0000D8;-webkit-text-stroke:0.2px #0000D8;left:223.74px;width:24.28px;text-align:center;">5.0</span>
<span style="top:128px;font-size:3.9px;color:#0000D8;-webkit-text-stroke:0.2px #0000D8;left:248.45px;width:24.28px;text-align:center;">5.0</span>
<span style="top:128px;font-size:3.9px;color:#0000D8;-webkit-text-stroke:0.2px #0000D8;left:272.63px;width:24.28px;text-align:center;">5.0</span>
<span style="top:128px;font-size:3.9px;color:#0000D8;-webkit-text-stroke:0.2px #0000D8;left:296.81px;width:24.28px;text-align:center;">5.0</span>
<span style="top:128px;font-size:3.9px;color:#0000D8;-webkit-text-stroke:0.2px #0000D8;left:320.99px;width:24.28px;text-align:center;">5.0</span>
<span style="top:128px;font-size:3.9px;color:#0000D8;-webkit-text-stroke:0.2px #0000D8;left:345.17px;width:24.28px;text-align:center;">5.0</span>
<span style="top:128px;font-size:3.9px;color:#0000D8;-webkit-text-stroke:0.2px #0000D8;left:369.35px;width:24.28px;text-align:center;">5.0</span>
<span style="top:128px;font-size:3.9px;color:#0000D8;-webkit-text-stroke:0.2px #0000D8;left:393.53px;width:24.28px;text-align:center;">5.0</span>
<span style="top:128px;font-size:3.9px;color:#0000D8;-webkit-text-stroke:0.2px #0000D8;left:417.71px;width:24.28px;text-align:center;">5.0</span>
<span style="top:128px;font-size:3.9px;color:#0000D8;-webkit-text-stroke:0.2px #0000D8;left:441.89px;width:24.28px;text-align:center;">5.0</span>
<span style="top:128px;font-size:3.9px;color:#0000D8;-webkit-text-stroke:0.2px #0000D8;left:466.07px;width:24.28px;text-align:center;">5.0</span>
<span style="top:128px;font-size:3.9px;color:#0000D8;-webkit-text-stroke:0.2px #0000D8;left:490.25px;width:24.28px;text-align:center;">5.0</span>
<span style="top:128px;font-size:3.9px;color:#0000D8;-webkit-text-stroke:0.2px #0000D8;left:514.43px;width:24.28px;text-align:center;">5.0</span>
<span style="top:128px;font-size:3.9px;color:#0000D8;-webkit-text-stroke:0.2px #0000D8;left:538.61px;width:24.28px;text-align:center;">5.0</span>
<span style="top:128px;font-size:3.9px;color:#0000D8;-webkit-text-stroke:0.2px #0000D8;left:562.95px;width:24.28px;text-align:center;">5.0</span>
<span style="top:145px;font-size:4.9px;color:#000;font-weight:bold;-webkit-text-stroke:0.12px #000;left:17.60px;">9.1</span>
<span style="top:145px;font-size:4.9px;color:#000;font-weight:bold;-webkit-text-stroke:0.12px #000;left:30.80px;">Existing Assets</span>
<span style="top:154px;font-size:4.9px;color:#000;font-weight:bold;-webkit-text-stroke:0.12px #000;left:30.80px;">9.1.1</span>
<span style="top:154px;font-size:4.9px;color:#000;font-weight:bold;-webkit-text-stroke:0.12px #000;left:47.50px;">Acquisitions Costs (Existing Assets)</span>
<span style="top:162px;font-size:4.2px;color:#000;font-style:italic;-webkit-text-stroke:0.1px #000;left:47.40px;">Acquisitions Costs (Existing Assets)</span>
<span style="top:162px;font-size:4.2px;color:#000;-webkit-text-stroke:0.1px #000;left:118.30px;width:40.00px;text-align:center;">$</span>
<span style="top:174px;font-size:4.2px;color:#000;-webkit-text-stroke:0.1px #000;left:47.40px;">Intangible Assets</span>
<span style="top:174px;font-size:4.2px;color:#000;-webkit-text-stroke:0.1px #000;left:118.30px;width:40.00px;text-align:center;">$</span>
<span style="top:161px;font-size:3.9px;color:#000;font-weight:bold;-webkit-text-stroke:0.08px #000;left:219.50px;width:31.20px;text-align:center;">450,000,000</span>
<span style="top:168px;font-size:3.9px;color:#0000D8;font-weight:bold;-webkit-text-stroke:0.08px #0000D8;left:219.50px;width:31.20px;text-align:center;">340,000,000</span>
<span style="top:190px;font-size:4.2px;color:#000;font-style:italic;-webkit-text-stroke:0.1px #000;left:47.40px;">Accumulated Depreciation</span>
<span style="top:190px;font-size:4.2px;color:#000;-webkit-text-stroke:0.1px #000;left:118.30px;width:40.00px;text-align:center;">$</span>
<span style="top:202px;font-size:4.2px;color:#000;-webkit-text-stroke:0.1px #000;left:47.40px;">Intangible Assets</span>
<span style="top:202px;font-size:4.2px;color:#000;-webkit-text-stroke:0.1px #000;left:118.30px;width:40.00px;text-align:center;">$</span>
<span style="top:190px;font-size:3.9px;color:#000;font-weight:bold;-webkit-text-stroke:0.08px #000;left:219.50px;width:31.20px;text-align:center;">110,000,000</span>
<span style="top:197px;font-size:3.9px;color:#0000D8;font-weight:bold;-webkit-text-stroke:0.08px #0000D8;left:219.50px;width:31.20px;text-align:center;">80,000,000</span>
<span style="top:211px;font-size:4.9px;color:#000;font-weight:bold;-webkit-text-stroke:0.12px #000;left:30.80px;">9.1.3</span>
<span style="top:211px;font-size:4.9px;color:#000;font-weight:bold;-webkit-text-stroke:0.12px #000;left:47.50px;">RUL, Depreciation Rate &amp; Expense</span>
<span style="top:219px;font-size:4.2px;color:#000;-webkit-text-stroke:0.1px #000;left:47.40px;">Tangible Assets</span>
<span style="top:219px;font-size:4.2px;color:#000;-webkit-text-stroke:0.1px #000;left:118.30px;width:40.00px;text-align:center;">% / Years</span>
<span style="top:224px;font-size:4.2px;color:#000;-webkit-text-stroke:0.1px #000;left:47.40px;">Intangible Assets</span>
<span style="top:224px;font-size:4.2px;color:#000;-webkit-text-stroke:0.1px #000;left:118.30px;width:40.00px;text-align:center;">% / Years</span>
<span style="top:232px;font-size:4.9px;color:#000;font-weight:bold;-webkit-text-stroke:0.12px #000;left:17.60px;">9.2</span>
<span style="top:232px;font-size:4.9px;color:#000;font-weight:bold;-webkit-text-stroke:0.12px #000;left:30.80px;">Capital Expenditures</span>
<span style="top:253px;font-size:4.2px;color:#000;-webkit-text-stroke:0.1px #000;left:47.40px;">Intangible Assets</span>
<span style="top:253px;font-size:4.2px;color:#000;-webkit-text-stroke:0.1px #000;left:118.30px;width:40.00px;text-align:center;">% / Years</span>
<span style="top:248px;font-size:3.9px;color:#0000D8;-webkit-text-stroke:0.2px #0000D8;left:146.15px;width:36.65px;text-align:center;">10%</span>
<span style="top:248px;font-size:3.9px;color:#000;-webkit-text-stroke:0.2px #000;left:176.80px;width:40.00px;text-align:center;">10.00</span>
<span style="top:285px;font-size:3.9px;color:#0000D8;-webkit-text-stroke:0.2px #0000D8;left:248.50px;width:24.28px;text-align:center;">10.0%</span>
<span style="top:285px;font-size:3.9px;color:#0000D8;-webkit-text-stroke:0.2px #0000D8;left:272.63px;width:24.28px;text-align:center;">10.0%</span>
<span style="top:285px;font-size:3.9px;color:#0000D8;-webkit-text-stroke:0.2px #0000D8;left:296.81px;width:24.28px;text-align:center;">10.0%</span>
<span style="top:285px;font-size:3.9px;color:#0000D8;-webkit-text-stroke:0.2px #0000D8;left:320.99px;width:24.28px;text-align:center;">10.0%</span>
<span style="top:285px;font-size:3.9px;color:#0000D8;-webkit-text-stroke:0.2px #0000D8;left:345.17px;width:24.28px;text-align:center;">10.0%</span>
<span style="top:285px;font-size:3.9px;color:#0000D8;-webkit-text-stroke:0.2px #0000D8;left:369.35px;width:24.28px;text-align:center;">10.0%</span>
<span style="top:285px;font-size:3.9px;color:#0000D8;-webkit-text-stroke:0.2px #0000D8;left:393.53px;width:24.28px;text-align:center;">10.0%</span>
<span style="top:285px;font-size:3.9px;color:#0000D8;-webkit-text-stroke:0.2px #0000D8;left:417.71px;width:24.28px;text-align:center;">10.0%</span>
<span style="top:285px;font-size:3.9px;color:#0000D8;-webkit-text-stroke:0.2px #0000D8;left:441.89px;width:24.28px;text-align:center;">10.0%</span>
<span style="top:285px;font-size:3.9px;color:#0000D8;-webkit-text-stroke:0.2px #0000D8;left:466.07px;width:24.28px;text-align:center;">10.0%</span>
<span style="top:285px;font-size:3.9px;color:#0000D8;-webkit-text-stroke:0.2px #0000D8;left:490.25px;width:24.28px;text-align:center;">10.0%</span>
<span style="top:285px;font-size:3.9px;color:#0000D8;-webkit-text-stroke:0.2px #0000D8;left:514.43px;width:24.28px;text-align:center;">10.0%</span>
<span style="top:285px;font-size:3.9px;color:#0000D8;-webkit-text-stroke:0.2px #0000D8;left:538.61px;width:24.28px;text-align:center;">10.0%</span>
<span style="top:285px;font-size:3.9px;color:#0000D8;-webkit-text-stroke:0.2px #0000D8;left:562.95px;width:24.28px;text-align:center;">10.0%</span>
<span style="top:294px;font-size:4.9px;color:#000;font-weight:bold;-webkit-text-stroke:0.12px #000;left:6.70px;">10 .</span>
<span style="top:294px;font-size:4.9px;color:#000;font-weight:bold;-webkit-text-stroke:0.12px #000;left:17.60px;">Liabilities &amp; Current Assets</span>
<span style="top:311px;font-size:4.9px;color:#000;font-weight:bold;-webkit-text-stroke:0.12px #000;left:30.80px;">10.1.1</span>
<span style="top:311px;font-size:4.9px;color:#000;font-weight:bold;-webkit-text-stroke:0.12px #000;left:47.50px;">Inventory</span>
<span style="top:318px;font-size:4.2px;color:#000;-webkit-text-stroke:0.1px #000;left:47.40px;">Inventory Days</span>
<span style="top:318px;font-size:4.2px;color:#000;-webkit-text-stroke:0.1px #000;left:118.30px;width:40.00px;text-align:center;">Days</span>
<span style="top:319px;font-size:3.9px;color:#0000D8;-webkit-text-stroke:0.2px #0000D8;left:248.50px;width:24.28px;text-align:center;">90.00</span>
<span style="top:319px;font-size:3.9px;color:#0000D8;-webkit-text-stroke:0.2px #0000D8;left:272.63px;width:24.28px;text-align:center;">90.00</span>
<span style="top:319px;font-size:3.9px;color:#0000D8;-webkit-text-stroke:0.2px #0000D8;left:296.81px;width:24.28px;text-align:center;">90.00</span>
<span style="top:319px;font-size:3.9px;color:#0000D8;-webkit-text-stroke:0.2px #0000D8;left:320.99px;width:24.28px;text-align:center;">90.00</span>
<span style="top:319px;font-size:3.9px;color:#0000D8;-webkit-text-stroke:0.2px #0000D8;left:345.17px;width:24.28px;text-align:center;">90.00</span>
<span style="top:319px;font-size:3.9px;color:#0000D8;-webkit-text-stroke:0.2px #0000D8;left:369.35px;width:24.28px;text-align:center;">90.00</span>
<span style="top:319px;font-size:3.9px;color:#0000D8;-webkit-text-stroke:0.2px #0000D8;left:393.53px;width:24.28px;text-align:center;">90.00</span>
<span style="top:319px;font-size:3.9px;color:#0000D8;-webkit-text-stroke:0.2px #0000D8;left:417.71px;width:24.28px;text-align:center;">90.00</span>
<span style="top:319px;font-size:3.9px;color:#0000D8;-webkit-text-stroke:0.2px #0000D8;left:441.89px;width:24.28px;text-align:center;">90.00</span>
<span style="top:319px;font-size:3.9px;color:#0000D8;-webkit-text-stroke:0.2px #0000D8;left:466.07px;width:24.28px;text-align:center;">90.00</span>
<span style="top:319px;font-size:3.9px;color:#0000D8;-webkit-text-stroke:0.2px #0000D8;left:490.25px;width:24.28px;text-align:center;">90.00</span>
<span style="top:319px;font-size:3.9px;color:#0000D8;-webkit-text-stroke:0.2px #0000D8;left:514.43px;width:24.28px;text-align:center;">90.00</span>
<span style="top:319px;font-size:3.9px;color:#0000D8;-webkit-text-stroke:0.2px #0000D8;left:538.61px;width:24.28px;text-align:center;">90.00</span>
<span style="top:319px;font-size:3.9px;color:#0000D8;-webkit-text-stroke:0.2px #0000D8;left:562.95px;width:24.28px;text-align:center;">90.00</span>
<span style="top:334px;font-size:4.2px;color:#000;-webkit-text-stroke:0.1px #000;left:47.40px;">Receivables Days</span>
<span style="top:334px;font-size:4.2px;color:#000;-webkit-text-stroke:0.1px #000;left:118.30px;width:40.00px;text-align:center;">Days</span>
<span style="top:343px;font-size:4.9px;color:#000;font-weight:bold;-webkit-text-stroke:0.12px #000;left:17.60px;">10.2</span>
<span style="top:343px;font-size:4.9px;color:#000;font-weight:bold;-webkit-text-stroke:0.12px #000;left:30.80px;">Cash Assumptions</span>
<span style="top:350px;font-size:4.2px;color:#000;-webkit-text-stroke:0.1px #000;left:47.40px;">Average Interest on Cash</span>
<span style="top:350px;font-size:4.2px;color:#000;-webkit-text-stroke:0.1px #000;left:118.30px;width:40.00px;text-align:center;">%</span>
<span style="top:355px;font-size:4.2px;color:#000;-webkit-text-stroke:0.1px #000;left:47.40px;">Cash</span>
<span style="top:355px;font-size:4.2px;color:#000;-webkit-text-stroke:0.1px #000;left:118.30px;width:40.00px;text-align:center;">$</span>
<span style="top:356px;font-size:3.9px;color:#0000D8;-webkit-text-stroke:0.2px #0000D8;left:146.15px;width:36.65px;text-align:center;"></span>
<span style="top:361px;font-size:3.9px;color:#0000D8;-webkit-text-stroke:0.2px #0000D8;left:248.50px;width:24.28px;text-align:center;">1,000,000</span>
<span style="top:361px;font-size:3.9px;color:#0000D8;-webkit-text-stroke:0.2px #0000D8;left:272.63px;width:24.28px;text-align:center;">1,000,000</span>
<span style="top:361px;font-size:3.9px;color:#0000D8;-webkit-text-stroke:0.2px #0000D8;left:296.81px;width:24.28px;text-align:center;">1,000,000</span>
<span style="top:361px;font-size:3.9px;color:#0000D8;-webkit-text-stroke:0.2px #0000D8;left:320.99px;width:24.28px;text-align:center;">1,000,000</span>
<span style="top:361px;font-size:3.9px;color:#0000D8;-webkit-text-stroke:0.2px #0000D8;left:345.17px;width:24.28px;text-align:center;">1,000,000</span>
<span style="top:361px;font-size:3.9px;color:#0000D8;-webkit-text-stroke:0.2px #0000D8;left:369.35px;width:24.28px;text-align:center;">1,000,000</span>
<span style="top:361px;font-size:3.9px;color:#0000D8;-webkit-text-stroke:0.2px #0000D8;left:393.53px;width:24.28px;text-align:center;">1,000,000</span>
<span style="top:361px;font-size:3.9px;color:#0000D8;-webkit-text-stroke:0.2px #0000D8;left:417.71px;width:24.28px;text-align:center;">1,000,000</span>
<span style="top:361px;font-size:3.9px;color:#0000D8;-webkit-text-stroke:0.2px #0000D8;left:441.89px;width:24.28px;text-align:center;">1,000,000</span>
<span style="top:361px;font-size:3.9px;color:#0000D8;-webkit-text-stroke:0.2px #0000D8;left:466.07px;width:24.28px;text-align:center;">1,000,000</span>
<span style="top:361px;font-size:3.9px;color:#0000D8;-webkit-text-stroke:0.2px #0000D8;left:490.25px;width:24.28px;text-align:center;">1,000,000</span>
<span style="top:361px;font-size:3.9px;color:#0000D8;-webkit-text-stroke:0.2px #0000D8;left:514.43px;width:24.28px;text-align:center;">1,000,000</span>
<span style="top:361px;font-size:3.9px;color:#0000D8;-webkit-text-stroke:0.2px #0000D8;left:538.61px;width:24.28px;text-align:center;">1,000,000</span>
<span style="top:361px;font-size:3.9px;color:#0000D8;-webkit-text-stroke:0.2px #0000D8;left:562.95px;width:24.28px;text-align:center;">1,000,000</span>
<span style="top:369px;font-size:4.9px;color:#000;font-weight:bold;-webkit-text-stroke:0.12px #000;left:17.60px;">10.3</span>
<span style="top:369px;font-size:4.9px;color:#000;font-weight:bold;-webkit-text-stroke:0.12px #000;left:30.80px;">Current Liabilities</span>
<span style="top:378px;font-size:4.9px;color:#000;font-weight:bold;-webkit-text-stroke:0.12px #000;left:30.80px;">10.3.1</span>
<span style="top:378px;font-size:4.9px;color:#000;font-weight:bold;-webkit-text-stroke:0.12px #000;left:47.50px;">Payables</span>
<span style="top:386px;font-size:3.9px;color:#0000D8;-webkit-text-stroke:0.2px #0000D8;left:248.50px;width:24.28px;text-align:center;">140</span>
<span style="top:386px;font-size:3.9px;color:#0000D8;-webkit-text-stroke:0.2px #0000D8;left:272.63px;width:24.28px;text-align:center;">140</span>
<span style="top:386px;font-size:3.9px;color:#0000D8;-webkit-text-stroke:0.2px #0000D8;left:296.81px;width:24.28px;text-align:center;">140</span>
<span style="top:386px;font-size:3.9px;color:#0000D8;-webkit-text-stroke:0.2px #0000D8;left:320.99px;width:24.28px;text-align:center;">140</span>
<span style="top:386px;font-size:3.9px;color:#0000D8;-webkit-text-stroke:0.2px #0000D8;left:345.17px;width:24.28px;text-align:center;">140</span>
<span style="top:386px;font-size:3.9px;color:#0000D8;-webkit-text-stroke:0.2px #0000D8;left:369.35px;width:24.28px;text-align:center;">140</span>
<span style="top:386px;font-size:3.9px;color:#0000D8;-webkit-text-stroke:0.2px #0000D8;left:393.53px;width:24.28px;text-align:center;">140</span>
<span style="top:386px;font-size:3.9px;color:#0000D8;-webkit-text-stroke:0.2px #0000D8;left:417.71px;width:24.28px;text-align:center;">140</span>
<span style="top:386px;font-size:3.9px;color:#0000D8;-webkit-text-stroke:0.2px #0000D8;left:441.89px;width:24.28px;text-align:center;">140</span>
<span style="top:386px;font-size:3.9px;color:#0000D8;-webkit-text-stroke:0.2px #0000D8;left:466.07px;width:24.28px;text-align:center;">140</span>
<span style="top:386px;font-size:3.9px;color:#0000D8;-webkit-text-stroke:0.2px #0000D8;left:490.25px;width:24.28px;text-align:center;">140</span>
<span style="top:386px;font-size:3.9px;color:#0000D8;-webkit-text-stroke:0.2px #0000D8;left:514.43px;width:24.28px;text-align:center;">140</span>
<span style="top:386px;font-size:3.9px;color:#0000D8;-webkit-text-stroke:0.2px #0000D8;left:538.61px;width:24.28px;text-align:center;">140</span>
<span style="top:386px;font-size:3.9px;color:#0000D8;-webkit-text-stroke:0.2px #0000D8;left:562.95px;width:24.28px;text-align:center;">140</span>
<span style="top:394px;font-size:4.9px;color:#000;font-weight:bold;-webkit-text-stroke:0.12px #000;left:30.80px;">10.3.2</span>
<span style="top:394px;font-size:4.9px;color:#000;font-weight:bold;-webkit-text-stroke:0.12px #000;left:47.50px;">Other Payables</span>
<span style="top:410px;font-size:4.9px;color:#000;font-weight:bold;-webkit-text-stroke:0.12px #000;left:30.80px;">10.3.3</span>
<span style="top:410px;font-size:4.9px;color:#000;font-weight:bold;-webkit-text-stroke:0.12px #000;left:47.50px;">Other Current Liabilities</span>
<span style="top:417px;font-size:4.2px;color:#000;-webkit-text-stroke:0.1px #000;left:47.40px;">Other Current Liabilities</span>
<span style="top:417px;font-size:4.2px;color:#000;-webkit-text-stroke:0.1px #000;left:118.30px;width:40.00px;text-align:center;">$</span>
<span style="top:417px;font-size:3.9px;color:#0000D8;-webkit-text-stroke:0.2px #0000D8;left:248.50px;width:24.28px;text-align:center;">20,000,000</span>
<span style="top:417px;font-size:3.9px;color:#0000D8;-webkit-text-stroke:0.2px #0000D8;left:272.63px;width:24.28px;text-align:center;">20,000,000</span>
<span style="top:417px;font-size:3.9px;color:#0000D8;-webkit-text-stroke:0.2px #0000D8;left:296.81px;width:24.28px;text-align:center;">20,000,000</span>
<span style="top:417px;font-size:3.9px;color:#0000D8;-webkit-text-stroke:0.2px #0000D8;left:320.99px;width:24.28px;text-align:center;">20,000,000</span>
<span style="top:417px;font-size:3.9px;color:#0000D8;-webkit-text-stroke:0.2px #0000D8;left:345.17px;width:24.28px;text-align:center;">20,000,000</span>
<span style="top:417px;font-size:3.9px;color:#0000D8;-webkit-text-stroke:0.2px #0000D8;left:369.35px;width:24.28px;text-align:center;">20,000,000</span>
<span style="top:417px;font-size:3.9px;color:#0000D8;-webkit-text-stroke:0.2px #0000D8;left:393.53px;width:24.28px;text-align:center;">20,000,000</span>
<span style="top:417px;font-size:3.9px;color:#0000D8;-webkit-text-stroke:0.2px #0000D8;left:417.71px;width:24.28px;text-align:center;">20,000,000</span>
<span style="top:417px;font-size:3.9px;color:#0000D8;-webkit-text-stroke:0.2px #0000D8;left:441.89px;width:24.28px;text-align:center;">20,000,000</span>
<span style="top:417px;font-size:3.9px;color:#0000D8;-webkit-text-stroke:0.2px #0000D8;left:466.07px;width:24.28px;text-align:center;">20,000,000</span>
<span style="top:417px;font-size:3.9px;color:#0000D8;-webkit-text-stroke:0.2px #0000D8;left:490.25px;width:24.28px;text-align:center;">20,000,000</span>
<span style="top:417px;font-size:3.9px;color:#0000D8;-webkit-text-stroke:0.2px #0000D8;left:514.43px;width:24.28px;text-align:center;">20,000,000</span>
<span style="top:417px;font-size:3.9px;color:#0000D8;-webkit-text-stroke:0.2px #0000D8;left:538.61px;width:24.28px;text-align:center;">20,000,000</span>
<span style="top:417px;font-size:3.9px;color:#0000D8;-webkit-text-stroke:0.2px #0000D8;left:562.95px;width:24.28px;text-align:center;">20,000,000</span>
<span style="top:442px;font-size:4.2px;color:#000;-webkit-text-stroke:0.1px #000;left:47.40px;">Loan Duration</span>
<span style="top:442px;font-size:4.2px;color:#000;-webkit-text-stroke:0.1px #000;left:118.30px;width:40.00px;text-align:center;">Years</span>
<span style="top:447px;font-size:4.2px;color:#000;-webkit-text-stroke:0.1px #000;left:47.40px;">Loan Balance</span>
<span style="top:447px;font-size:4.2px;color:#000;-webkit-text-stroke:0.1px #000;left:118.30px;width:40.00px;text-align:center;">$</span>
<span style="top:455px;font-size:4.2px;color:#000;-webkit-text-stroke:0.1px #000;left:47.40px;">Historic Year</span>
<span style="top:442px;font-size:3.9px;color:#0000D8;-webkit-text-stroke:0.2px #0000D8;left:146.15px;width:36.65px;text-align:center;">10.00</span>
<span style="top:447px;font-size:3.9px;color:#0000D8;font-weight:bold;-webkit-text-stroke:0.08px #0000D8;left:219.50px;width:31.20px;text-align:center;">100,000,000</span>
<span style="top:460px;font-size:3.9px;color:#0000D8;-webkit-text-stroke:0.2px #0000D8;left:223.74px;width:24.28px;text-align:center;">6.00%</span>
<span style="top:460px;font-size:3.9px;color:#0000D8;-webkit-text-stroke:0.2px #0000D8;left:248.45px;width:24.28px;text-align:center;">6.00%</span>
<span style="top:460px;font-size:3.9px;color:#0000D8;-webkit-text-stroke:0.2px #0000D8;left:272.63px;width:24.28px;text-align:center;">6.00%</span>
<span style="top:460px;font-size:3.9px;color:#0000D8;-webkit-text-stroke:0.2px #0000D8;left:296.81px;width:24.28px;text-align:center;">6.00%</span>
<span style="top:460px;font-size:3.9px;color:#0000D8;-webkit-text-stroke:0.2px #0000D8;left:320.99px;width:24.28px;text-align:center;">6.00%</span>
<span style="top:460px;font-size:3.9px;color:#0000D8;-webkit-text-stroke:0.2px #0000D8;left:345.17px;width:24.28px;text-align:center;">6.00%</span>
<span style="top:460px;font-size:3.9px;color:#0000D8;-webkit-text-stroke:0.2px #0000D8;left:369.35px;width:24.28px;text-align:center;">6.00%</span>
<span style="top:460px;font-size:3.9px;color:#0000D8;-webkit-text-stroke:0.2px #0000D8;left:393.53px;width:24.28px;text-align:center;">6.00%</span>
<span style="top:460px;font-size:3.9px;color:#0000D8;-webkit-text-stroke:0.2px #0000D8;left:417.71px;width:24.28px;text-align:center;">6.00%</span>
<span style="top:460px;font-size:3.9px;color:#0000D8;-webkit-text-stroke:0.2px #0000D8;left:441.89px;width:24.28px;text-align:center;">6.00%</span>
<span style="top:460px;font-size:3.9px;color:#0000D8;-webkit-text-stroke:0.2px #0000D8;left:466.07px;width:24.28px;text-align:center;">6.00%</span>
<span style="top:460px;font-size:3.9px;color:#0000D8;-webkit-text-stroke:0.2px #0000D8;left:490.25px;width:24.28px;text-align:center;">6.00%</span>
<span style="top:460px;font-size:3.9px;color:#0000D8;-webkit-text-stroke:0.2px #0000D8;left:514.43px;width:24.28px;text-align:center;">6.00%</span>
<span style="top:460px;font-size:3.9px;color:#0000D8;-webkit-text-stroke:0.2px #0000D8;left:538.61px;width:24.28px;text-align:center;">6.00%</span>
<span style="top:460px;font-size:3.9px;color:#0000D8;-webkit-text-stroke:0.2px #0000D8;left:562.95px;width:24.28px;text-align:center;">6.00%</span>
<span style="top:468px;font-size:4.9px;color:#000;font-weight:bold;-webkit-text-stroke:0.12px #000;left:17.60px;">11.2</span>
<span style="top:468px;font-size:4.9px;color:#000;font-weight:bold;-webkit-text-stroke:0.12px #000;left:30.80px;">Overdraft</span>
<span style="top:476px;font-size:4.2px;color:#000;-webkit-text-stroke:0.1px #000;left:47.40px;">Interest Rate</span>
<span style="top:476px;font-size:4.2px;color:#000;-webkit-text-stroke:0.1px #000;left:118.30px;width:40.00px;text-align:center;">%</span>
<span style="top:476px;font-size:3.9px;color:#0000D8;-webkit-text-stroke:0.2px #0000D8;left:223.74px;width:24.28px;text-align:center;">8.00%</span>
<span style="top:476px;font-size:3.9px;color:#0000D8;-webkit-text-stroke:0.2px #0000D8;left:248.45px;width:24.28px;text-align:center;">8.00%</span>
<span style="top:476px;font-size:3.9px;color:#0000D8;-webkit-text-stroke:0.2px #0000D8;left:272.63px;width:24.28px;text-align:center;">8.00%</span>
<span style="top:476px;font-size:3.9px;color:#0000D8;-webkit-text-stroke:0.2px #0000D8;left:296.81px;width:24.28px;text-align:center;">8.00%</span>
<span style="top:476px;font-size:3.9px;color:#0000D8;-webkit-text-stroke:0.2px #0000D8;left:320.99px;width:24.28px;text-align:center;">8.00%</span>
<span style="top:476px;font-size:3.9px;color:#0000D8;-webkit-text-stroke:0.2px #0000D8;left:345.17px;width:24.28px;text-align:center;">8.00%</span>
<span style="top:476px;font-size:3.9px;color:#0000D8;-webkit-text-stroke:0.2px #0000D8;left:369.35px;width:24.28px;text-align:center;">8.00%</span>
<span style="top:476px;font-size:3.9px;color:#0000D8;-webkit-text-stroke:0.2px #0000D8;left:393.53px;width:24.28px;text-align:center;">8.00%</span>
<span style="top:476px;font-size:3.9px;color:#0000D8;-webkit-text-stroke:0.2px #0000D8;left:417.71px;width:24.28px;text-align:center;">8.00%</span>
<span style="top:476px;font-size:3.9px;color:#0000D8;-webkit-text-stroke:0.2px #0000D8;left:441.89px;width:24.28px;text-align:center;">8.00%</span>
<span style="top:476px;font-size:3.9px;color:#0000D8;-webkit-text-stroke:0.2px #0000D8;left:466.07px;width:24.28px;text-align:center;">8.00%</span>
<span style="top:476px;font-size:3.9px;color:#0000D8;-webkit-text-stroke:0.2px #0000D8;left:490.25px;width:24.28px;text-align:center;">8.00%</span>
<span style="top:476px;font-size:3.9px;color:#0000D8;-webkit-text-stroke:0.2px #0000D8;left:514.43px;width:24.28px;text-align:center;">8.00%</span>
<span style="top:476px;font-size:3.9px;color:#0000D8;-webkit-text-stroke:0.2px #0000D8;left:538.61px;width:24.28px;text-align:center;">8.00%</span>
<span style="top:476px;font-size:3.9px;color:#0000D8;-webkit-text-stroke:0.2px #0000D8;left:562.95px;width:24.28px;text-align:center;">8.00%</span>
<span style="top:485px;font-size:4.9px;color:#000;font-weight:bold;-webkit-text-stroke:0.12px #000;left:6.70px;">12 .</span>
<span style="top:485px;font-size:4.9px;color:#000;font-weight:bold;-webkit-text-stroke:0.12px #000;left:17.60px;">Equity</span>
<span style="top:492px;font-size:4.2px;color:#000;-webkit-text-stroke:0.1px #000;left:47.40px;">Share Capital</span>
<span style="top:492px;font-size:4.2px;color:#000;-webkit-text-stroke:0.1px #000;left:118.30px;width:40.00px;text-align:center;">$</span>
<span style="top:491px;font-size:3.9px;color:#0000D8;font-weight:bold;-webkit-text-stroke:0.08px #0000D8;left:219.50px;width:31.20px;text-align:center;">250,000,000</span>
<span style="top:500px;font-size:4.6px;color:#fff;font-weight:bold;-webkit-text-stroke:0.18px #fff;left:6.60px;">End of Sheet</span>
</div>
</div></body></html>
